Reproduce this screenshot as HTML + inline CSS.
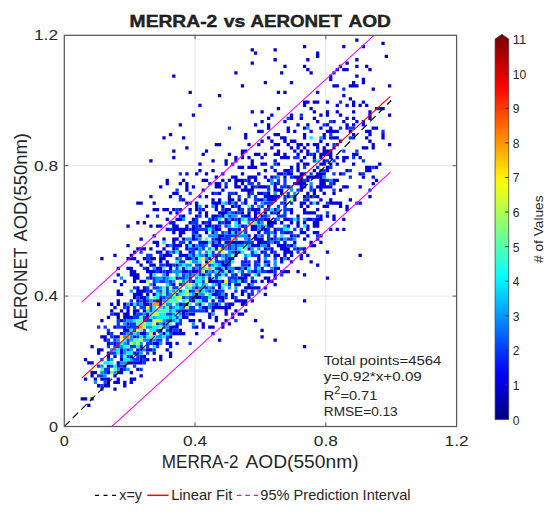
<!DOCTYPE html>
<html><head><meta charset="utf-8"><title>MERRA-2 vs AERONET AOD</title>
<style>html,body{margin:0;padding:0;background:#fff;}svg{display:block}text{font-family:"Liberation Sans",sans-serif;fill:#262626}</style></head><body>
<svg width="550" height="514" viewBox="0 0 550 514">
<defs><linearGradient id="jet" gradientUnits="userSpaceOnUse" x1="0" y1="419.6" x2="0" y2="39.1">
<stop offset="0.0000" stop-color="rgb(0,0,128)"/>
<stop offset="0.0227" stop-color="rgb(0,0,151)"/>
<stop offset="0.0455" stop-color="rgb(0,0,174)"/>
<stop offset="0.0682" stop-color="rgb(0,0,197)"/>
<stop offset="0.0909" stop-color="rgb(0,0,220)"/>
<stop offset="0.1136" stop-color="rgb(0,0,243)"/>
<stop offset="0.1364" stop-color="rgb(0,12,255)"/>
<stop offset="0.1591" stop-color="rgb(0,35,255)"/>
<stop offset="0.1818" stop-color="rgb(0,58,255)"/>
<stop offset="0.2045" stop-color="rgb(0,81,255)"/>
<stop offset="0.2273" stop-color="rgb(0,104,255)"/>
<stop offset="0.2500" stop-color="rgb(0,128,255)"/>
<stop offset="0.2727" stop-color="rgb(0,151,255)"/>
<stop offset="0.2955" stop-color="rgb(0,174,255)"/>
<stop offset="0.3182" stop-color="rgb(0,197,255)"/>
<stop offset="0.3409" stop-color="rgb(0,220,255)"/>
<stop offset="0.3636" stop-color="rgb(0,243,255)"/>
<stop offset="0.3864" stop-color="rgb(12,255,243)"/>
<stop offset="0.4091" stop-color="rgb(35,255,220)"/>
<stop offset="0.4318" stop-color="rgb(58,255,197)"/>
<stop offset="0.4545" stop-color="rgb(81,255,174)"/>
<stop offset="0.4773" stop-color="rgb(104,255,151)"/>
<stop offset="0.5000" stop-color="rgb(128,255,128)"/>
<stop offset="0.5227" stop-color="rgb(151,255,104)"/>
<stop offset="0.5455" stop-color="rgb(174,255,81)"/>
<stop offset="0.5682" stop-color="rgb(197,255,58)"/>
<stop offset="0.5909" stop-color="rgb(220,255,35)"/>
<stop offset="0.6136" stop-color="rgb(243,255,12)"/>
<stop offset="0.6364" stop-color="rgb(255,243,0)"/>
<stop offset="0.6591" stop-color="rgb(255,220,0)"/>
<stop offset="0.6818" stop-color="rgb(255,197,0)"/>
<stop offset="0.7045" stop-color="rgb(255,174,0)"/>
<stop offset="0.7273" stop-color="rgb(255,151,0)"/>
<stop offset="0.7500" stop-color="rgb(255,128,0)"/>
<stop offset="0.7727" stop-color="rgb(255,104,0)"/>
<stop offset="0.7955" stop-color="rgb(255,81,0)"/>
<stop offset="0.8182" stop-color="rgb(255,58,0)"/>
<stop offset="0.8409" stop-color="rgb(255,35,0)"/>
<stop offset="0.8636" stop-color="rgb(255,12,0)"/>
<stop offset="0.8864" stop-color="rgb(243,0,0)"/>
<stop offset="0.9091" stop-color="rgb(220,0,0)"/>
<stop offset="0.9318" stop-color="rgb(197,0,0)"/>
<stop offset="0.9545" stop-color="rgb(174,0,0)"/>
<stop offset="0.9773" stop-color="rgb(151,0,0)"/>
<stop offset="1.0000" stop-color="rgb(128,0,0)"/>
</linearGradient>
<filter id="soft" x="0" y="0" width="550" height="514" filterUnits="userSpaceOnUse"><feGaussianBlur stdDeviation="0.45"/></filter>
<clipPath id="clip"><rect x="64.3" y="35.3" width="392.3" height="391.2"/></clipPath></defs>
<rect width="550" height="514" fill="#fff"/>
<line x1="195.07" y1="35.3" x2="195.07" y2="426.5" stroke="#e6e6e6" stroke-width="1"/>
<line x1="64.3" y1="296.10" x2="456.6" y2="296.10" stroke="#e6e6e6" stroke-width="1"/>
<line x1="325.83" y1="35.3" x2="325.83" y2="426.5" stroke="#e6e6e6" stroke-width="1"/>
<line x1="64.3" y1="165.70" x2="456.6" y2="165.70" stroke="#e6e6e6" stroke-width="1"/>
<g filter="url(#soft)">
<path fill="rgb(0,0,220)" d="M80.65 397.16h3.27v3.26h-3.27zM83.91 397.16h3.27v3.26h-3.27zM83.91 377.60h3.27v3.26h-3.27zM83.91 358.04h3.27v3.26h-3.27zM87.18 403.68h3.27v3.26h-3.27zM87.18 361.30h3.27v3.26h-3.27zM90.45 397.16h3.27v3.26h-3.27zM90.45 374.34h3.27v3.26h-3.27zM90.45 371.08h3.27v3.26h-3.27zM90.45 361.30h3.27v3.26h-3.27zM90.45 345.00h3.27v3.26h-3.27zM93.72 377.60h3.27v3.26h-3.27zM93.72 371.08h3.27v3.26h-3.27zM96.99 384.12h3.27v3.26h-3.27zM96.99 351.52h3.27v3.26h-3.27zM96.99 348.26h3.27v3.26h-3.27zM96.99 302.62h3.27v3.26h-3.27zM100.26 377.60h3.27v3.26h-3.27zM100.26 348.26h3.27v3.26h-3.27zM100.26 335.22h3.27v3.26h-3.27zM100.26 318.92h3.27v3.26h-3.27zM100.26 256.98h3.27v3.26h-3.27zM103.53 384.12h3.27v3.26h-3.27zM103.53 377.60h3.27v3.26h-3.27zM103.53 338.48h3.27v3.26h-3.27zM103.53 335.22h3.27v3.26h-3.27zM106.80 384.12h3.27v3.26h-3.27zM106.80 380.86h3.27v3.26h-3.27zM106.80 377.60h3.27v3.26h-3.27zM106.80 371.08h3.27v3.26h-3.27zM106.80 364.56h3.27v3.26h-3.27zM106.80 354.78h3.27v3.26h-3.27zM106.80 351.52h3.27v3.26h-3.27zM106.80 341.74h3.27v3.26h-3.27zM106.80 331.96h3.27v3.26h-3.27zM106.80 315.66h3.27v3.26h-3.27zM110.07 309.14h3.27v3.26h-3.27zM110.07 302.62h3.27v3.26h-3.27zM113.34 387.38h3.27v3.26h-3.27zM113.34 380.86h3.27v3.26h-3.27zM113.34 374.34h3.27v3.26h-3.27zM113.34 354.78h3.27v3.26h-3.27zM113.34 341.74h3.27v3.26h-3.27zM113.34 335.22h3.27v3.26h-3.27zM113.34 325.44h3.27v3.26h-3.27zM113.34 312.40h3.27v3.26h-3.27zM113.34 305.88h3.27v3.26h-3.27zM113.34 279.80h3.27v3.26h-3.27zM113.34 253.72h3.27v3.26h-3.27zM116.61 380.86h3.27v3.26h-3.27zM116.61 377.60h3.27v3.26h-3.27zM116.61 371.08h3.27v3.26h-3.27zM116.61 364.56h3.27v3.26h-3.27zM116.61 361.30h3.27v3.26h-3.27zM116.61 335.22h3.27v3.26h-3.27zM116.61 315.66h3.27v3.26h-3.27zM116.61 312.40h3.27v3.26h-3.27zM116.61 302.62h3.27v3.26h-3.27zM116.61 299.36h3.27v3.26h-3.27zM116.61 292.84h3.27v3.26h-3.27zM116.61 289.58h3.27v3.26h-3.27zM116.61 273.28h3.27v3.26h-3.27zM116.61 266.76h3.27v3.26h-3.27zM119.88 371.08h3.27v3.26h-3.27zM119.88 367.82h3.27v3.26h-3.27zM119.88 358.04h3.27v3.26h-3.27zM119.88 351.52h3.27v3.26h-3.27zM119.88 348.26h3.27v3.26h-3.27zM119.88 331.96h3.27v3.26h-3.27zM119.88 318.92h3.27v3.26h-3.27zM119.88 309.14h3.27v3.26h-3.27zM119.88 292.84h3.27v3.26h-3.27zM119.88 283.06h3.27v3.26h-3.27zM123.14 384.12h3.27v3.26h-3.27zM123.14 380.86h3.27v3.26h-3.27zM123.14 364.56h3.27v3.26h-3.27zM123.14 328.70h3.27v3.26h-3.27zM123.14 325.44h3.27v3.26h-3.27zM123.14 315.66h3.27v3.26h-3.27zM123.14 312.40h3.27v3.26h-3.27zM123.14 302.62h3.27v3.26h-3.27zM123.14 279.80h3.27v3.26h-3.27zM126.41 361.30h3.27v3.26h-3.27zM126.41 328.70h3.27v3.26h-3.27zM126.41 322.18h3.27v3.26h-3.27zM126.41 315.66h3.27v3.26h-3.27zM126.41 312.40h3.27v3.26h-3.27zM126.41 309.14h3.27v3.26h-3.27zM126.41 305.88h3.27v3.26h-3.27zM126.41 266.76h3.27v3.26h-3.27zM126.41 256.98h3.27v3.26h-3.27zM126.41 243.94h3.27v3.26h-3.27zM126.41 224.38h3.27v3.26h-3.27zM129.68 380.86h3.27v3.26h-3.27zM129.68 377.60h3.27v3.26h-3.27zM129.68 371.08h3.27v3.26h-3.27zM129.68 361.30h3.27v3.26h-3.27zM129.68 354.78h3.27v3.26h-3.27zM129.68 315.66h3.27v3.26h-3.27zM129.68 302.62h3.27v3.26h-3.27zM129.68 273.28h3.27v3.26h-3.27zM129.68 270.02h3.27v3.26h-3.27zM129.68 266.76h3.27v3.26h-3.27zM129.68 256.98h3.27v3.26h-3.27zM129.68 253.72h3.27v3.26h-3.27zM132.95 377.60h3.27v3.26h-3.27zM132.95 361.30h3.27v3.26h-3.27zM132.95 351.52h3.27v3.26h-3.27zM132.95 335.22h3.27v3.26h-3.27zM132.95 312.40h3.27v3.26h-3.27zM132.95 309.14h3.27v3.26h-3.27zM132.95 296.10h3.27v3.26h-3.27zM132.95 292.84h3.27v3.26h-3.27zM132.95 279.80h3.27v3.26h-3.27zM132.95 276.54h3.27v3.26h-3.27zM132.95 273.28h3.27v3.26h-3.27zM132.95 270.02h3.27v3.26h-3.27zM132.95 256.98h3.27v3.26h-3.27zM132.95 250.46h3.27v3.26h-3.27zM136.22 367.82h3.27v3.26h-3.27zM136.22 361.30h3.27v3.26h-3.27zM136.22 348.26h3.27v3.26h-3.27zM136.22 325.44h3.27v3.26h-3.27zM136.22 309.14h3.27v3.26h-3.27zM136.22 299.36h3.27v3.26h-3.27zM136.22 292.84h3.27v3.26h-3.27zM136.22 289.58h3.27v3.26h-3.27zM136.22 286.32h3.27v3.26h-3.27zM136.22 276.54h3.27v3.26h-3.27zM136.22 273.28h3.27v3.26h-3.27zM136.22 260.24h3.27v3.26h-3.27zM136.22 247.20h3.27v3.26h-3.27zM136.22 221.12h3.27v3.26h-3.27zM136.22 201.56h3.27v3.26h-3.27zM139.49 374.34h3.27v3.26h-3.27zM139.49 361.30h3.27v3.26h-3.27zM139.49 358.04h3.27v3.26h-3.27zM139.49 354.78h3.27v3.26h-3.27zM139.49 345.00h3.27v3.26h-3.27zM139.49 331.96h3.27v3.26h-3.27zM139.49 296.10h3.27v3.26h-3.27zM139.49 292.84h3.27v3.26h-3.27zM139.49 289.58h3.27v3.26h-3.27zM139.49 279.80h3.27v3.26h-3.27zM139.49 263.50h3.27v3.26h-3.27zM139.49 247.20h3.27v3.26h-3.27zM139.49 237.42h3.27v3.26h-3.27zM139.49 201.56h3.27v3.26h-3.27zM142.76 354.78h3.27v3.26h-3.27zM142.76 331.96h3.27v3.26h-3.27zM142.76 309.14h3.27v3.26h-3.27zM142.76 302.62h3.27v3.26h-3.27zM142.76 299.36h3.27v3.26h-3.27zM142.76 296.10h3.27v3.26h-3.27zM142.76 289.58h3.27v3.26h-3.27zM142.76 286.32h3.27v3.26h-3.27zM142.76 279.80h3.27v3.26h-3.27zM142.76 256.98h3.27v3.26h-3.27zM142.76 247.20h3.27v3.26h-3.27zM142.76 221.12h3.27v3.26h-3.27zM146.03 358.04h3.27v3.26h-3.27zM146.03 348.26h3.27v3.26h-3.27zM146.03 315.66h3.27v3.26h-3.27zM146.03 312.40h3.27v3.26h-3.27zM146.03 302.62h3.27v3.26h-3.27zM146.03 292.84h3.27v3.26h-3.27zM146.03 270.02h3.27v3.26h-3.27zM146.03 266.76h3.27v3.26h-3.27zM146.03 260.24h3.27v3.26h-3.27zM146.03 214.60h3.27v3.26h-3.27zM149.30 348.26h3.27v3.26h-3.27zM149.30 289.58h3.27v3.26h-3.27zM149.30 276.54h3.27v3.26h-3.27zM149.30 273.28h3.27v3.26h-3.27zM149.30 270.02h3.27v3.26h-3.27zM149.30 263.50h3.27v3.26h-3.27zM149.30 256.98h3.27v3.26h-3.27zM149.30 247.20h3.27v3.26h-3.27zM149.30 224.38h3.27v3.26h-3.27zM149.30 195.04h3.27v3.26h-3.27zM149.30 159.18h3.27v3.26h-3.27zM152.57 358.04h3.27v3.26h-3.27zM152.57 351.52h3.27v3.26h-3.27zM152.57 341.74h3.27v3.26h-3.27zM152.57 331.96h3.27v3.26h-3.27zM152.57 292.84h3.27v3.26h-3.27zM152.57 283.06h3.27v3.26h-3.27zM152.57 270.02h3.27v3.26h-3.27zM152.57 263.50h3.27v3.26h-3.27zM152.57 256.98h3.27v3.26h-3.27zM152.57 240.68h3.27v3.26h-3.27zM152.57 234.16h3.27v3.26h-3.27zM152.57 208.08h3.27v3.26h-3.27zM152.57 201.56h3.27v3.26h-3.27zM155.84 341.74h3.27v3.26h-3.27zM155.84 266.76h3.27v3.26h-3.27zM155.84 250.46h3.27v3.26h-3.27zM155.84 243.94h3.27v3.26h-3.27zM155.84 240.68h3.27v3.26h-3.27zM155.84 224.38h3.27v3.26h-3.27zM155.84 208.08h3.27v3.26h-3.27zM159.11 358.04h3.27v3.26h-3.27zM159.11 354.78h3.27v3.26h-3.27zM159.11 328.70h3.27v3.26h-3.27zM159.11 302.62h3.27v3.26h-3.27zM159.11 299.36h3.27v3.26h-3.27zM159.11 296.10h3.27v3.26h-3.27zM159.11 270.02h3.27v3.26h-3.27zM159.11 266.76h3.27v3.26h-3.27zM159.11 260.24h3.27v3.26h-3.27zM159.11 256.98h3.27v3.26h-3.27zM159.11 250.46h3.27v3.26h-3.27zM159.11 224.38h3.27v3.26h-3.27zM159.11 185.26h3.27v3.26h-3.27zM162.38 331.96h3.27v3.26h-3.27zM162.38 322.18h3.27v3.26h-3.27zM162.38 256.98h3.27v3.26h-3.27zM162.38 253.72h3.27v3.26h-3.27zM162.38 247.20h3.27v3.26h-3.27zM162.38 237.42h3.27v3.26h-3.27zM162.38 208.08h3.27v3.26h-3.27zM162.38 136.36h3.27v3.26h-3.27zM165.64 348.26h3.27v3.26h-3.27zM165.64 341.74h3.27v3.26h-3.27zM165.64 273.28h3.27v3.26h-3.27zM165.64 270.02h3.27v3.26h-3.27zM165.64 263.50h3.27v3.26h-3.27zM165.64 260.24h3.27v3.26h-3.27zM165.64 253.72h3.27v3.26h-3.27zM165.64 250.46h3.27v3.26h-3.27zM165.64 243.94h3.27v3.26h-3.27zM165.64 227.64h3.27v3.26h-3.27zM165.64 217.86h3.27v3.26h-3.27zM165.64 208.08h3.27v3.26h-3.27zM165.64 182.00h3.27v3.26h-3.27zM165.64 178.74h3.27v3.26h-3.27zM168.91 354.78h3.27v3.26h-3.27zM168.91 351.52h3.27v3.26h-3.27zM168.91 345.00h3.27v3.26h-3.27zM168.91 341.74h3.27v3.26h-3.27zM168.91 335.22h3.27v3.26h-3.27zM168.91 328.70h3.27v3.26h-3.27zM168.91 325.44h3.27v3.26h-3.27zM168.91 266.76h3.27v3.26h-3.27zM168.91 263.50h3.27v3.26h-3.27zM168.91 253.72h3.27v3.26h-3.27zM168.91 221.12h3.27v3.26h-3.27zM168.91 211.34h3.27v3.26h-3.27zM168.91 195.04h3.27v3.26h-3.27zM168.91 133.10h3.27v3.26h-3.27zM172.18 331.96h3.27v3.26h-3.27zM172.18 325.44h3.27v3.26h-3.27zM172.18 283.06h3.27v3.26h-3.27zM172.18 247.20h3.27v3.26h-3.27zM172.18 243.94h3.27v3.26h-3.27zM172.18 240.68h3.27v3.26h-3.27zM172.18 237.42h3.27v3.26h-3.27zM172.18 230.90h3.27v3.26h-3.27zM172.18 227.64h3.27v3.26h-3.27zM172.18 224.38h3.27v3.26h-3.27zM172.18 221.12h3.27v3.26h-3.27zM172.18 208.08h3.27v3.26h-3.27zM172.18 191.78h3.27v3.26h-3.27zM172.18 155.92h3.27v3.26h-3.27zM172.18 149.40h3.27v3.26h-3.27zM172.18 74.42h3.27v3.26h-3.27zM175.45 341.74h3.27v3.26h-3.27zM175.45 331.96h3.27v3.26h-3.27zM175.45 325.44h3.27v3.26h-3.27zM175.45 322.18h3.27v3.26h-3.27zM175.45 276.54h3.27v3.26h-3.27zM175.45 263.50h3.27v3.26h-3.27zM175.45 243.94h3.27v3.26h-3.27zM175.45 237.42h3.27v3.26h-3.27zM175.45 227.64h3.27v3.26h-3.27zM175.45 224.38h3.27v3.26h-3.27zM175.45 217.86h3.27v3.26h-3.27zM175.45 211.34h3.27v3.26h-3.27zM175.45 191.78h3.27v3.26h-3.27zM178.72 331.96h3.27v3.26h-3.27zM178.72 328.70h3.27v3.26h-3.27zM178.72 302.62h3.27v3.26h-3.27zM178.72 260.24h3.27v3.26h-3.27zM178.72 253.72h3.27v3.26h-3.27zM178.72 250.46h3.27v3.26h-3.27zM178.72 243.94h3.27v3.26h-3.27zM178.72 234.16h3.27v3.26h-3.27zM178.72 230.90h3.27v3.26h-3.27zM178.72 227.64h3.27v3.26h-3.27zM178.72 217.86h3.27v3.26h-3.27zM178.72 208.08h3.27v3.26h-3.27zM178.72 182.00h3.27v3.26h-3.27zM178.72 123.32h3.27v3.26h-3.27zM181.99 331.96h3.27v3.26h-3.27zM181.99 315.66h3.27v3.26h-3.27zM181.99 312.40h3.27v3.26h-3.27zM181.99 309.14h3.27v3.26h-3.27zM181.99 270.02h3.27v3.26h-3.27zM181.99 266.76h3.27v3.26h-3.27zM181.99 253.72h3.27v3.26h-3.27zM181.99 237.42h3.27v3.26h-3.27zM181.99 230.90h3.27v3.26h-3.27zM181.99 227.64h3.27v3.26h-3.27zM181.99 214.60h3.27v3.26h-3.27zM181.99 198.30h3.27v3.26h-3.27zM181.99 178.74h3.27v3.26h-3.27zM181.99 136.36h3.27v3.26h-3.27zM185.26 315.66h3.27v3.26h-3.27zM185.26 309.14h3.27v3.26h-3.27zM185.26 302.62h3.27v3.26h-3.27zM185.26 270.02h3.27v3.26h-3.27zM185.26 256.98h3.27v3.26h-3.27zM185.26 253.72h3.27v3.26h-3.27zM185.26 247.20h3.27v3.26h-3.27zM185.26 243.94h3.27v3.26h-3.27zM185.26 227.64h3.27v3.26h-3.27zM185.26 224.38h3.27v3.26h-3.27zM185.26 201.56h3.27v3.26h-3.27zM185.26 188.52h3.27v3.26h-3.27zM185.26 185.26h3.27v3.26h-3.27zM185.26 182.00h3.27v3.26h-3.27zM185.26 172.22h3.27v3.26h-3.27zM185.26 146.14h3.27v3.26h-3.27zM188.53 318.92h3.27v3.26h-3.27zM188.53 312.40h3.27v3.26h-3.27zM188.53 289.58h3.27v3.26h-3.27zM188.53 276.54h3.27v3.26h-3.27zM188.53 256.98h3.27v3.26h-3.27zM188.53 250.46h3.27v3.26h-3.27zM188.53 240.68h3.27v3.26h-3.27zM188.53 221.12h3.27v3.26h-3.27zM188.53 208.08h3.27v3.26h-3.27zM188.53 90.72h3.27v3.26h-3.27zM191.80 318.92h3.27v3.26h-3.27zM191.80 312.40h3.27v3.26h-3.27zM191.80 299.36h3.27v3.26h-3.27zM191.80 279.80h3.27v3.26h-3.27zM191.80 270.02h3.27v3.26h-3.27zM191.80 243.94h3.27v3.26h-3.27zM191.80 237.42h3.27v3.26h-3.27zM191.80 234.16h3.27v3.26h-3.27zM191.80 227.64h3.27v3.26h-3.27zM191.80 224.38h3.27v3.26h-3.27zM191.80 217.86h3.27v3.26h-3.27zM191.80 185.26h3.27v3.26h-3.27zM191.80 113.54h3.27v3.26h-3.27zM195.07 331.96h3.27v3.26h-3.27zM195.07 325.44h3.27v3.26h-3.27zM195.07 296.10h3.27v3.26h-3.27zM195.07 292.84h3.27v3.26h-3.27zM195.07 286.32h3.27v3.26h-3.27zM195.07 270.02h3.27v3.26h-3.27zM195.07 256.98h3.27v3.26h-3.27zM195.07 247.20h3.27v3.26h-3.27zM195.07 230.90h3.27v3.26h-3.27zM195.07 214.60h3.27v3.26h-3.27zM195.07 208.08h3.27v3.26h-3.27zM195.07 204.82h3.27v3.26h-3.27zM195.07 201.56h3.27v3.26h-3.27zM195.07 172.22h3.27v3.26h-3.27zM198.34 318.92h3.27v3.26h-3.27zM198.34 302.62h3.27v3.26h-3.27zM198.34 296.10h3.27v3.26h-3.27zM198.34 263.50h3.27v3.26h-3.27zM198.34 240.68h3.27v3.26h-3.27zM198.34 234.16h3.27v3.26h-3.27zM198.34 224.38h3.27v3.26h-3.27zM198.34 211.34h3.27v3.26h-3.27zM198.34 168.96h3.27v3.26h-3.27zM198.34 162.44h3.27v3.26h-3.27zM198.34 103.76h3.27v3.26h-3.27zM201.61 325.44h3.27v3.26h-3.27zM201.61 322.18h3.27v3.26h-3.27zM201.61 305.88h3.27v3.26h-3.27zM201.61 273.28h3.27v3.26h-3.27zM201.61 240.68h3.27v3.26h-3.27zM201.61 221.12h3.27v3.26h-3.27zM201.61 208.08h3.27v3.26h-3.27zM201.61 188.52h3.27v3.26h-3.27zM201.61 178.74h3.27v3.26h-3.27zM201.61 152.66h3.27v3.26h-3.27zM204.87 309.14h3.27v3.26h-3.27zM204.87 305.88h3.27v3.26h-3.27zM204.87 260.24h3.27v3.26h-3.27zM204.87 253.72h3.27v3.26h-3.27zM204.87 240.68h3.27v3.26h-3.27zM204.87 230.90h3.27v3.26h-3.27zM204.87 224.38h3.27v3.26h-3.27zM204.87 214.60h3.27v3.26h-3.27zM204.87 211.34h3.27v3.26h-3.27zM204.87 204.82h3.27v3.26h-3.27zM204.87 195.04h3.27v3.26h-3.27zM204.87 178.74h3.27v3.26h-3.27zM204.87 172.22h3.27v3.26h-3.27zM204.87 149.40h3.27v3.26h-3.27zM208.14 325.44h3.27v3.26h-3.27zM208.14 315.66h3.27v3.26h-3.27zM208.14 312.40h3.27v3.26h-3.27zM208.14 279.80h3.27v3.26h-3.27zM208.14 276.54h3.27v3.26h-3.27zM208.14 256.98h3.27v3.26h-3.27zM208.14 224.38h3.27v3.26h-3.27zM208.14 221.12h3.27v3.26h-3.27zM211.41 331.96h3.27v3.26h-3.27zM211.41 325.44h3.27v3.26h-3.27zM211.41 309.14h3.27v3.26h-3.27zM211.41 305.88h3.27v3.26h-3.27zM211.41 299.36h3.27v3.26h-3.27zM211.41 292.84h3.27v3.26h-3.27zM211.41 286.32h3.27v3.26h-3.27zM211.41 279.80h3.27v3.26h-3.27zM211.41 243.94h3.27v3.26h-3.27zM211.41 240.68h3.27v3.26h-3.27zM211.41 230.90h3.27v3.26h-3.27zM211.41 217.86h3.27v3.26h-3.27zM211.41 214.60h3.27v3.26h-3.27zM211.41 201.56h3.27v3.26h-3.27zM211.41 198.30h3.27v3.26h-3.27zM211.41 191.78h3.27v3.26h-3.27zM211.41 168.96h3.27v3.26h-3.27zM211.41 159.18h3.27v3.26h-3.27zM214.68 318.92h3.27v3.26h-3.27zM214.68 315.66h3.27v3.26h-3.27zM214.68 305.88h3.27v3.26h-3.27zM214.68 302.62h3.27v3.26h-3.27zM214.68 292.84h3.27v3.26h-3.27zM214.68 289.58h3.27v3.26h-3.27zM214.68 279.80h3.27v3.26h-3.27zM214.68 253.72h3.27v3.26h-3.27zM214.68 247.20h3.27v3.26h-3.27zM214.68 243.94h3.27v3.26h-3.27zM214.68 237.42h3.27v3.26h-3.27zM214.68 227.64h3.27v3.26h-3.27zM214.68 224.38h3.27v3.26h-3.27zM214.68 214.60h3.27v3.26h-3.27zM214.68 208.08h3.27v3.26h-3.27zM214.68 204.82h3.27v3.26h-3.27zM214.68 201.56h3.27v3.26h-3.27zM214.68 185.26h3.27v3.26h-3.27zM214.68 182.00h3.27v3.26h-3.27zM214.68 175.48h3.27v3.26h-3.27zM214.68 142.88h3.27v3.26h-3.27zM217.95 338.48h3.27v3.26h-3.27zM217.95 305.88h3.27v3.26h-3.27zM217.95 296.10h3.27v3.26h-3.27zM217.95 286.32h3.27v3.26h-3.27zM217.95 283.06h3.27v3.26h-3.27zM217.95 266.76h3.27v3.26h-3.27zM217.95 240.68h3.27v3.26h-3.27zM217.95 237.42h3.27v3.26h-3.27zM217.95 234.16h3.27v3.26h-3.27zM217.95 227.64h3.27v3.26h-3.27zM217.95 221.12h3.27v3.26h-3.27zM217.95 211.34h3.27v3.26h-3.27zM217.95 201.56h3.27v3.26h-3.27zM217.95 198.30h3.27v3.26h-3.27zM217.95 191.78h3.27v3.26h-3.27zM217.95 185.26h3.27v3.26h-3.27zM217.95 182.00h3.27v3.26h-3.27zM217.95 142.88h3.27v3.26h-3.27zM217.95 93.98h3.27v3.26h-3.27zM221.22 325.44h3.27v3.26h-3.27zM221.22 322.18h3.27v3.26h-3.27zM221.22 305.88h3.27v3.26h-3.27zM221.22 299.36h3.27v3.26h-3.27zM221.22 296.10h3.27v3.26h-3.27zM221.22 279.80h3.27v3.26h-3.27zM221.22 263.50h3.27v3.26h-3.27zM221.22 260.24h3.27v3.26h-3.27zM221.22 234.16h3.27v3.26h-3.27zM221.22 214.60h3.27v3.26h-3.27zM221.22 211.34h3.27v3.26h-3.27zM221.22 204.82h3.27v3.26h-3.27zM221.22 188.52h3.27v3.26h-3.27zM221.22 178.74h3.27v3.26h-3.27zM221.22 172.22h3.27v3.26h-3.27zM224.49 318.92h3.27v3.26h-3.27zM224.49 312.40h3.27v3.26h-3.27zM224.49 309.14h3.27v3.26h-3.27zM224.49 305.88h3.27v3.26h-3.27zM224.49 292.84h3.27v3.26h-3.27zM224.49 266.76h3.27v3.26h-3.27zM224.49 263.50h3.27v3.26h-3.27zM224.49 240.68h3.27v3.26h-3.27zM224.49 221.12h3.27v3.26h-3.27zM224.49 217.86h3.27v3.26h-3.27zM224.49 211.34h3.27v3.26h-3.27zM224.49 208.08h3.27v3.26h-3.27zM224.49 185.26h3.27v3.26h-3.27zM224.49 162.44h3.27v3.26h-3.27zM224.49 159.18h3.27v3.26h-3.27zM227.76 322.18h3.27v3.26h-3.27zM227.76 305.88h3.27v3.26h-3.27zM227.76 302.62h3.27v3.26h-3.27zM227.76 283.06h3.27v3.26h-3.27zM227.76 270.02h3.27v3.26h-3.27zM227.76 256.98h3.27v3.26h-3.27zM227.76 240.68h3.27v3.26h-3.27zM227.76 230.90h3.27v3.26h-3.27zM227.76 227.64h3.27v3.26h-3.27zM227.76 221.12h3.27v3.26h-3.27zM227.76 208.08h3.27v3.26h-3.27zM227.76 201.56h3.27v3.26h-3.27zM227.76 198.30h3.27v3.26h-3.27zM227.76 195.04h3.27v3.26h-3.27zM227.76 178.74h3.27v3.26h-3.27zM227.76 152.66h3.27v3.26h-3.27zM231.03 315.66h3.27v3.26h-3.27zM231.03 302.62h3.27v3.26h-3.27zM231.03 296.10h3.27v3.26h-3.27zM231.03 292.84h3.27v3.26h-3.27zM231.03 256.98h3.27v3.26h-3.27zM231.03 240.68h3.27v3.26h-3.27zM231.03 217.86h3.27v3.26h-3.27zM231.03 204.82h3.27v3.26h-3.27zM231.03 198.30h3.27v3.26h-3.27zM231.03 175.48h3.27v3.26h-3.27zM234.30 309.14h3.27v3.26h-3.27zM234.30 299.36h3.27v3.26h-3.27zM234.30 283.06h3.27v3.26h-3.27zM234.30 273.28h3.27v3.26h-3.27zM234.30 266.76h3.27v3.26h-3.27zM234.30 253.72h3.27v3.26h-3.27zM234.30 250.46h3.27v3.26h-3.27zM234.30 240.68h3.27v3.26h-3.27zM234.30 230.90h3.27v3.26h-3.27zM234.30 211.34h3.27v3.26h-3.27zM234.30 201.56h3.27v3.26h-3.27zM234.30 191.78h3.27v3.26h-3.27zM234.30 185.26h3.27v3.26h-3.27zM234.30 182.00h3.27v3.26h-3.27zM234.30 178.74h3.27v3.26h-3.27zM234.30 175.48h3.27v3.26h-3.27zM234.30 159.18h3.27v3.26h-3.27zM234.30 155.92h3.27v3.26h-3.27zM234.30 71.16h3.27v3.26h-3.27zM237.57 312.40h3.27v3.26h-3.27zM237.57 299.36h3.27v3.26h-3.27zM237.57 283.06h3.27v3.26h-3.27zM237.57 276.54h3.27v3.26h-3.27zM237.57 266.76h3.27v3.26h-3.27zM237.57 240.68h3.27v3.26h-3.27zM237.57 227.64h3.27v3.26h-3.27zM237.57 221.12h3.27v3.26h-3.27zM237.57 217.86h3.27v3.26h-3.27zM237.57 208.08h3.27v3.26h-3.27zM237.57 204.82h3.27v3.26h-3.27zM237.57 198.30h3.27v3.26h-3.27zM237.57 185.26h3.27v3.26h-3.27zM237.57 178.74h3.27v3.26h-3.27zM237.57 165.70h3.27v3.26h-3.27zM240.83 312.40h3.27v3.26h-3.27zM240.83 302.62h3.27v3.26h-3.27zM240.83 299.36h3.27v3.26h-3.27zM240.83 292.84h3.27v3.26h-3.27zM240.83 289.58h3.27v3.26h-3.27zM240.83 279.80h3.27v3.26h-3.27zM240.83 276.54h3.27v3.26h-3.27zM240.83 240.68h3.27v3.26h-3.27zM240.83 224.38h3.27v3.26h-3.27zM240.83 211.34h3.27v3.26h-3.27zM240.83 188.52h3.27v3.26h-3.27zM240.83 182.00h3.27v3.26h-3.27zM240.83 178.74h3.27v3.26h-3.27zM240.83 172.22h3.27v3.26h-3.27zM240.83 165.70h3.27v3.26h-3.27zM240.83 155.92h3.27v3.26h-3.27zM240.83 152.66h3.27v3.26h-3.27zM240.83 149.40h3.27v3.26h-3.27zM240.83 84.20h3.27v3.26h-3.27zM244.10 309.14h3.27v3.26h-3.27zM244.10 302.62h3.27v3.26h-3.27zM244.10 299.36h3.27v3.26h-3.27zM244.10 286.32h3.27v3.26h-3.27zM244.10 276.54h3.27v3.26h-3.27zM244.10 273.28h3.27v3.26h-3.27zM244.10 266.76h3.27v3.26h-3.27zM244.10 260.24h3.27v3.26h-3.27zM244.10 214.60h3.27v3.26h-3.27zM244.10 201.56h3.27v3.26h-3.27zM244.10 198.30h3.27v3.26h-3.27zM244.10 188.52h3.27v3.26h-3.27zM244.10 185.26h3.27v3.26h-3.27zM244.10 149.40h3.27v3.26h-3.27zM244.10 136.36h3.27v3.26h-3.27zM244.10 133.10h3.27v3.26h-3.27zM247.37 296.10h3.27v3.26h-3.27zM247.37 292.84h3.27v3.26h-3.27zM247.37 286.32h3.27v3.26h-3.27zM247.37 283.06h3.27v3.26h-3.27zM247.37 273.28h3.27v3.26h-3.27zM247.37 263.50h3.27v3.26h-3.27zM247.37 247.20h3.27v3.26h-3.27zM247.37 234.16h3.27v3.26h-3.27zM247.37 214.60h3.27v3.26h-3.27zM247.37 211.34h3.27v3.26h-3.27zM247.37 191.78h3.27v3.26h-3.27zM247.37 188.52h3.27v3.26h-3.27zM247.37 178.74h3.27v3.26h-3.27zM247.37 175.48h3.27v3.26h-3.27zM247.37 165.70h3.27v3.26h-3.27zM247.37 155.92h3.27v3.26h-3.27zM247.37 142.88h3.27v3.26h-3.27zM250.64 299.36h3.27v3.26h-3.27zM250.64 286.32h3.27v3.26h-3.27zM250.64 279.80h3.27v3.26h-3.27zM250.64 243.94h3.27v3.26h-3.27zM250.64 227.64h3.27v3.26h-3.27zM250.64 224.38h3.27v3.26h-3.27zM250.64 208.08h3.27v3.26h-3.27zM250.64 188.52h3.27v3.26h-3.27zM250.64 185.26h3.27v3.26h-3.27zM250.64 175.48h3.27v3.26h-3.27zM250.64 165.70h3.27v3.26h-3.27zM250.64 162.44h3.27v3.26h-3.27zM250.64 159.18h3.27v3.26h-3.27zM250.64 110.28h3.27v3.26h-3.27zM250.64 61.38h3.27v3.26h-3.27zM250.64 48.34h3.27v3.26h-3.27zM253.91 318.92h3.27v3.26h-3.27zM253.91 286.32h3.27v3.26h-3.27zM253.91 270.02h3.27v3.26h-3.27zM253.91 243.94h3.27v3.26h-3.27zM253.91 237.42h3.27v3.26h-3.27zM253.91 234.16h3.27v3.26h-3.27zM253.91 227.64h3.27v3.26h-3.27zM253.91 224.38h3.27v3.26h-3.27zM253.91 217.86h3.27v3.26h-3.27zM253.91 214.60h3.27v3.26h-3.27zM253.91 211.34h3.27v3.26h-3.27zM253.91 208.08h3.27v3.26h-3.27zM253.91 201.56h3.27v3.26h-3.27zM253.91 178.74h3.27v3.26h-3.27zM253.91 175.48h3.27v3.26h-3.27zM253.91 165.70h3.27v3.26h-3.27zM253.91 152.66h3.27v3.26h-3.27zM253.91 123.32h3.27v3.26h-3.27zM253.91 51.60h3.27v3.26h-3.27zM257.18 286.32h3.27v3.26h-3.27zM257.18 273.28h3.27v3.26h-3.27zM257.18 260.24h3.27v3.26h-3.27zM257.18 256.98h3.27v3.26h-3.27zM257.18 253.72h3.27v3.26h-3.27zM257.18 243.94h3.27v3.26h-3.27zM257.18 240.68h3.27v3.26h-3.27zM257.18 237.42h3.27v3.26h-3.27zM257.18 230.90h3.27v3.26h-3.27zM257.18 208.08h3.27v3.26h-3.27zM257.18 198.30h3.27v3.26h-3.27zM257.18 191.78h3.27v3.26h-3.27zM257.18 185.26h3.27v3.26h-3.27zM257.18 172.22h3.27v3.26h-3.27zM257.18 152.66h3.27v3.26h-3.27zM257.18 142.88h3.27v3.26h-3.27zM257.18 129.84h3.27v3.26h-3.27zM260.45 335.22h3.27v3.26h-3.27zM260.45 328.70h3.27v3.26h-3.27zM260.45 279.80h3.27v3.26h-3.27zM260.45 266.76h3.27v3.26h-3.27zM260.45 250.46h3.27v3.26h-3.27zM260.45 240.68h3.27v3.26h-3.27zM260.45 237.42h3.27v3.26h-3.27zM260.45 214.60h3.27v3.26h-3.27zM260.45 198.30h3.27v3.26h-3.27zM260.45 191.78h3.27v3.26h-3.27zM260.45 185.26h3.27v3.26h-3.27zM260.45 162.44h3.27v3.26h-3.27zM260.45 155.92h3.27v3.26h-3.27zM260.45 139.62h3.27v3.26h-3.27zM260.45 129.84h3.27v3.26h-3.27zM260.45 120.06h3.27v3.26h-3.27zM260.45 110.28h3.27v3.26h-3.27zM263.72 292.84h3.27v3.26h-3.27zM263.72 286.32h3.27v3.26h-3.27zM263.72 276.54h3.27v3.26h-3.27zM263.72 260.24h3.27v3.26h-3.27zM263.72 247.20h3.27v3.26h-3.27zM263.72 240.68h3.27v3.26h-3.27zM263.72 227.64h3.27v3.26h-3.27zM263.72 217.86h3.27v3.26h-3.27zM263.72 211.34h3.27v3.26h-3.27zM263.72 195.04h3.27v3.26h-3.27zM263.72 185.26h3.27v3.26h-3.27zM263.72 175.48h3.27v3.26h-3.27zM263.72 168.96h3.27v3.26h-3.27zM263.72 162.44h3.27v3.26h-3.27zM263.72 152.66h3.27v3.26h-3.27zM263.72 80.94h3.27v3.26h-3.27zM266.99 279.80h3.27v3.26h-3.27zM266.99 276.54h3.27v3.26h-3.27zM266.99 270.02h3.27v3.26h-3.27zM266.99 263.50h3.27v3.26h-3.27zM266.99 243.94h3.27v3.26h-3.27zM266.99 224.38h3.27v3.26h-3.27zM266.99 221.12h3.27v3.26h-3.27zM266.99 217.86h3.27v3.26h-3.27zM266.99 204.82h3.27v3.26h-3.27zM266.99 198.30h3.27v3.26h-3.27zM266.99 195.04h3.27v3.26h-3.27zM266.99 191.78h3.27v3.26h-3.27zM266.99 178.74h3.27v3.26h-3.27zM266.99 136.36h3.27v3.26h-3.27zM266.99 126.58h3.27v3.26h-3.27zM266.99 123.32h3.27v3.26h-3.27zM266.99 116.80h3.27v3.26h-3.27zM270.26 279.80h3.27v3.26h-3.27zM270.26 270.02h3.27v3.26h-3.27zM270.26 250.46h3.27v3.26h-3.27zM270.26 247.20h3.27v3.26h-3.27zM270.26 237.42h3.27v3.26h-3.27zM270.26 224.38h3.27v3.26h-3.27zM270.26 221.12h3.27v3.26h-3.27zM270.26 211.34h3.27v3.26h-3.27zM270.26 198.30h3.27v3.26h-3.27zM270.26 195.04h3.27v3.26h-3.27zM270.26 175.48h3.27v3.26h-3.27zM270.26 146.14h3.27v3.26h-3.27zM270.26 139.62h3.27v3.26h-3.27zM270.26 113.54h3.27v3.26h-3.27zM273.53 338.48h3.27v3.26h-3.27zM273.53 283.06h3.27v3.26h-3.27zM273.53 276.54h3.27v3.26h-3.27zM273.53 273.28h3.27v3.26h-3.27zM273.53 266.76h3.27v3.26h-3.27zM273.53 253.72h3.27v3.26h-3.27zM273.53 240.68h3.27v3.26h-3.27zM273.53 230.90h3.27v3.26h-3.27zM273.53 227.64h3.27v3.26h-3.27zM273.53 221.12h3.27v3.26h-3.27zM273.53 208.08h3.27v3.26h-3.27zM273.53 198.30h3.27v3.26h-3.27zM273.53 195.04h3.27v3.26h-3.27zM273.53 188.52h3.27v3.26h-3.27zM273.53 185.26h3.27v3.26h-3.27zM273.53 182.00h3.27v3.26h-3.27zM273.53 168.96h3.27v3.26h-3.27zM273.53 159.18h3.27v3.26h-3.27zM273.53 152.66h3.27v3.26h-3.27zM273.53 142.88h3.27v3.26h-3.27zM273.53 133.10h3.27v3.26h-3.27zM273.53 58.12h3.27v3.26h-3.27zM273.53 48.34h3.27v3.26h-3.27zM276.80 266.76h3.27v3.26h-3.27zM276.80 253.72h3.27v3.26h-3.27zM276.80 243.94h3.27v3.26h-3.27zM276.80 211.34h3.27v3.26h-3.27zM276.80 195.04h3.27v3.26h-3.27zM276.80 188.52h3.27v3.26h-3.27zM276.80 172.22h3.27v3.26h-3.27zM276.80 162.44h3.27v3.26h-3.27zM276.80 152.66h3.27v3.26h-3.27zM276.80 149.40h3.27v3.26h-3.27zM276.80 142.88h3.27v3.26h-3.27zM276.80 133.10h3.27v3.26h-3.27zM276.80 107.02h3.27v3.26h-3.27zM276.80 90.72h3.27v3.26h-3.27zM280.06 270.02h3.27v3.26h-3.27zM280.06 260.24h3.27v3.26h-3.27zM280.06 256.98h3.27v3.26h-3.27zM280.06 247.20h3.27v3.26h-3.27zM280.06 243.94h3.27v3.26h-3.27zM280.06 237.42h3.27v3.26h-3.27zM280.06 221.12h3.27v3.26h-3.27zM280.06 191.78h3.27v3.26h-3.27zM280.06 188.52h3.27v3.26h-3.27zM280.06 172.22h3.27v3.26h-3.27zM280.06 155.92h3.27v3.26h-3.27zM280.06 136.36h3.27v3.26h-3.27zM280.06 71.16h3.27v3.26h-3.27zM283.33 270.02h3.27v3.26h-3.27zM283.33 253.72h3.27v3.26h-3.27zM283.33 250.46h3.27v3.26h-3.27zM283.33 247.20h3.27v3.26h-3.27zM283.33 243.94h3.27v3.26h-3.27zM283.33 240.68h3.27v3.26h-3.27zM283.33 230.90h3.27v3.26h-3.27zM283.33 217.86h3.27v3.26h-3.27zM283.33 201.56h3.27v3.26h-3.27zM283.33 175.48h3.27v3.26h-3.27zM283.33 168.96h3.27v3.26h-3.27zM283.33 155.92h3.27v3.26h-3.27zM283.33 152.66h3.27v3.26h-3.27zM283.33 139.62h3.27v3.26h-3.27zM283.33 136.36h3.27v3.26h-3.27zM283.33 120.06h3.27v3.26h-3.27zM283.33 90.72h3.27v3.26h-3.27zM283.33 64.64h3.27v3.26h-3.27zM286.60 270.02h3.27v3.26h-3.27zM286.60 256.98h3.27v3.26h-3.27zM286.60 250.46h3.27v3.26h-3.27zM286.60 247.20h3.27v3.26h-3.27zM286.60 230.90h3.27v3.26h-3.27zM286.60 224.38h3.27v3.26h-3.27zM286.60 217.86h3.27v3.26h-3.27zM286.60 195.04h3.27v3.26h-3.27zM286.60 185.26h3.27v3.26h-3.27zM286.60 172.22h3.27v3.26h-3.27zM286.60 168.96h3.27v3.26h-3.27zM286.60 155.92h3.27v3.26h-3.27zM286.60 142.88h3.27v3.26h-3.27zM286.60 129.84h3.27v3.26h-3.27zM286.60 126.58h3.27v3.26h-3.27zM289.87 260.24h3.27v3.26h-3.27zM289.87 253.72h3.27v3.26h-3.27zM289.87 250.46h3.27v3.26h-3.27zM289.87 243.94h3.27v3.26h-3.27zM289.87 234.16h3.27v3.26h-3.27zM289.87 221.12h3.27v3.26h-3.27zM289.87 211.34h3.27v3.26h-3.27zM289.87 208.08h3.27v3.26h-3.27zM289.87 172.22h3.27v3.26h-3.27zM289.87 165.70h3.27v3.26h-3.27zM289.87 146.14h3.27v3.26h-3.27zM289.87 139.62h3.27v3.26h-3.27zM289.87 116.80h3.27v3.26h-3.27zM289.87 113.54h3.27v3.26h-3.27zM289.87 80.94h3.27v3.26h-3.27zM293.14 240.68h3.27v3.26h-3.27zM293.14 198.30h3.27v3.26h-3.27zM293.14 195.04h3.27v3.26h-3.27zM293.14 182.00h3.27v3.26h-3.27zM293.14 175.48h3.27v3.26h-3.27zM293.14 149.40h3.27v3.26h-3.27zM293.14 139.62h3.27v3.26h-3.27zM293.14 129.84h3.27v3.26h-3.27zM296.41 270.02h3.27v3.26h-3.27zM296.41 247.20h3.27v3.26h-3.27zM296.41 234.16h3.27v3.26h-3.27zM296.41 224.38h3.27v3.26h-3.27zM296.41 221.12h3.27v3.26h-3.27zM296.41 214.60h3.27v3.26h-3.27zM296.41 182.00h3.27v3.26h-3.27zM296.41 178.74h3.27v3.26h-3.27zM296.41 175.48h3.27v3.26h-3.27zM296.41 168.96h3.27v3.26h-3.27zM296.41 165.70h3.27v3.26h-3.27zM296.41 162.44h3.27v3.26h-3.27zM296.41 152.66h3.27v3.26h-3.27zM296.41 146.14h3.27v3.26h-3.27zM296.41 142.88h3.27v3.26h-3.27zM296.41 123.32h3.27v3.26h-3.27zM299.68 256.98h3.27v3.26h-3.27zM299.68 253.72h3.27v3.26h-3.27zM299.68 230.90h3.27v3.26h-3.27zM299.68 204.82h3.27v3.26h-3.27zM299.68 201.56h3.27v3.26h-3.27zM299.68 188.52h3.27v3.26h-3.27zM299.68 185.26h3.27v3.26h-3.27zM299.68 182.00h3.27v3.26h-3.27zM299.68 178.74h3.27v3.26h-3.27zM299.68 175.48h3.27v3.26h-3.27zM299.68 172.22h3.27v3.26h-3.27zM299.68 159.18h3.27v3.26h-3.27zM299.68 149.40h3.27v3.26h-3.27zM299.68 142.88h3.27v3.26h-3.27zM299.68 116.80h3.27v3.26h-3.27zM302.95 345.00h3.27v3.26h-3.27zM302.95 299.36h3.27v3.26h-3.27zM302.95 273.28h3.27v3.26h-3.27zM302.95 250.46h3.27v3.26h-3.27zM302.95 247.20h3.27v3.26h-3.27zM302.95 237.42h3.27v3.26h-3.27zM302.95 230.90h3.27v3.26h-3.27zM302.95 221.12h3.27v3.26h-3.27zM302.95 211.34h3.27v3.26h-3.27zM302.95 208.08h3.27v3.26h-3.27zM302.95 201.56h3.27v3.26h-3.27zM302.95 195.04h3.27v3.26h-3.27zM302.95 182.00h3.27v3.26h-3.27zM302.95 172.22h3.27v3.26h-3.27zM302.95 162.44h3.27v3.26h-3.27zM302.95 155.92h3.27v3.26h-3.27zM302.95 146.14h3.27v3.26h-3.27zM302.95 136.36h3.27v3.26h-3.27zM302.95 133.10h3.27v3.26h-3.27zM302.95 126.58h3.27v3.26h-3.27zM302.95 103.76h3.27v3.26h-3.27zM302.95 100.50h3.27v3.26h-3.27zM302.95 64.64h3.27v3.26h-3.27zM302.95 45.08h3.27v3.26h-3.27zM306.22 253.72h3.27v3.26h-3.27zM306.22 234.16h3.27v3.26h-3.27zM306.22 227.64h3.27v3.26h-3.27zM306.22 224.38h3.27v3.26h-3.27zM306.22 217.86h3.27v3.26h-3.27zM306.22 211.34h3.27v3.26h-3.27zM306.22 204.82h3.27v3.26h-3.27zM306.22 198.30h3.27v3.26h-3.27zM306.22 191.78h3.27v3.26h-3.27zM306.22 178.74h3.27v3.26h-3.27zM306.22 175.48h3.27v3.26h-3.27zM306.22 162.44h3.27v3.26h-3.27zM306.22 152.66h3.27v3.26h-3.27zM306.22 149.40h3.27v3.26h-3.27zM306.22 142.88h3.27v3.26h-3.27zM306.22 123.32h3.27v3.26h-3.27zM306.22 100.50h3.27v3.26h-3.27zM306.22 67.90h3.27v3.26h-3.27zM306.22 58.12h3.27v3.26h-3.27zM309.49 260.24h3.27v3.26h-3.27zM309.49 243.94h3.27v3.26h-3.27zM309.49 240.68h3.27v3.26h-3.27zM309.49 217.86h3.27v3.26h-3.27zM309.49 211.34h3.27v3.26h-3.27zM309.49 201.56h3.27v3.26h-3.27zM309.49 195.04h3.27v3.26h-3.27zM309.49 175.48h3.27v3.26h-3.27zM309.49 129.84h3.27v3.26h-3.27zM309.49 107.02h3.27v3.26h-3.27zM309.49 71.16h3.27v3.26h-3.27zM312.76 243.94h3.27v3.26h-3.27zM312.76 230.90h3.27v3.26h-3.27zM312.76 224.38h3.27v3.26h-3.27zM312.76 221.12h3.27v3.26h-3.27zM312.76 211.34h3.27v3.26h-3.27zM312.76 191.78h3.27v3.26h-3.27zM312.76 188.52h3.27v3.26h-3.27zM312.76 175.48h3.27v3.26h-3.27zM312.76 168.96h3.27v3.26h-3.27zM312.76 155.92h3.27v3.26h-3.27zM312.76 152.66h3.27v3.26h-3.27zM312.76 142.88h3.27v3.26h-3.27zM312.76 116.80h3.27v3.26h-3.27zM312.76 110.28h3.27v3.26h-3.27zM312.76 100.50h3.27v3.26h-3.27zM316.03 263.50h3.27v3.26h-3.27zM316.03 237.42h3.27v3.26h-3.27zM316.03 230.90h3.27v3.26h-3.27zM316.03 224.38h3.27v3.26h-3.27zM316.03 221.12h3.27v3.26h-3.27zM316.03 217.86h3.27v3.26h-3.27zM316.03 208.08h3.27v3.26h-3.27zM316.03 201.56h3.27v3.26h-3.27zM316.03 195.04h3.27v3.26h-3.27zM316.03 185.26h3.27v3.26h-3.27zM316.03 175.48h3.27v3.26h-3.27zM316.03 172.22h3.27v3.26h-3.27zM316.03 146.14h3.27v3.26h-3.27zM316.03 142.88h3.27v3.26h-3.27zM316.03 120.06h3.27v3.26h-3.27zM316.03 100.50h3.27v3.26h-3.27zM316.03 90.72h3.27v3.26h-3.27zM316.03 54.86h3.27v3.26h-3.27zM316.03 51.60h3.27v3.26h-3.27zM319.30 240.68h3.27v3.26h-3.27zM319.30 234.16h3.27v3.26h-3.27zM319.30 217.86h3.27v3.26h-3.27zM319.30 214.60h3.27v3.26h-3.27zM319.30 198.30h3.27v3.26h-3.27zM319.30 188.52h3.27v3.26h-3.27zM319.30 185.26h3.27v3.26h-3.27zM319.30 182.00h3.27v3.26h-3.27zM319.30 178.74h3.27v3.26h-3.27zM319.30 175.48h3.27v3.26h-3.27zM319.30 172.22h3.27v3.26h-3.27zM319.30 162.44h3.27v3.26h-3.27zM319.30 155.92h3.27v3.26h-3.27zM319.30 152.66h3.27v3.26h-3.27zM319.30 139.62h3.27v3.26h-3.27zM319.30 126.58h3.27v3.26h-3.27zM319.30 113.54h3.27v3.26h-3.27zM322.56 204.82h3.27v3.26h-3.27zM322.56 191.78h3.27v3.26h-3.27zM322.56 185.26h3.27v3.26h-3.27zM322.56 182.00h3.27v3.26h-3.27zM322.56 178.74h3.27v3.26h-3.27zM322.56 172.22h3.27v3.26h-3.27zM322.56 162.44h3.27v3.26h-3.27zM322.56 159.18h3.27v3.26h-3.27zM322.56 152.66h3.27v3.26h-3.27zM322.56 149.40h3.27v3.26h-3.27zM322.56 146.14h3.27v3.26h-3.27zM322.56 136.36h3.27v3.26h-3.27zM322.56 133.10h3.27v3.26h-3.27zM325.83 276.54h3.27v3.26h-3.27zM325.83 250.46h3.27v3.26h-3.27zM325.83 214.60h3.27v3.26h-3.27zM325.83 204.82h3.27v3.26h-3.27zM325.83 185.26h3.27v3.26h-3.27zM325.83 168.96h3.27v3.26h-3.27zM325.83 165.70h3.27v3.26h-3.27zM325.83 152.66h3.27v3.26h-3.27zM325.83 149.40h3.27v3.26h-3.27zM325.83 142.88h3.27v3.26h-3.27zM325.83 129.84h3.27v3.26h-3.27zM325.83 123.32h3.27v3.26h-3.27zM325.83 113.54h3.27v3.26h-3.27zM325.83 110.28h3.27v3.26h-3.27zM325.83 100.50h3.27v3.26h-3.27zM329.10 227.64h3.27v3.26h-3.27zM329.10 201.56h3.27v3.26h-3.27zM329.10 198.30h3.27v3.26h-3.27zM329.10 185.26h3.27v3.26h-3.27zM329.10 162.44h3.27v3.26h-3.27zM329.10 155.92h3.27v3.26h-3.27zM329.10 152.66h3.27v3.26h-3.27zM329.10 149.40h3.27v3.26h-3.27zM329.10 136.36h3.27v3.26h-3.27zM329.10 129.84h3.27v3.26h-3.27zM329.10 126.58h3.27v3.26h-3.27zM329.10 77.68h3.27v3.26h-3.27zM329.10 74.42h3.27v3.26h-3.27zM332.37 217.86h3.27v3.26h-3.27zM332.37 214.60h3.27v3.26h-3.27zM332.37 201.56h3.27v3.26h-3.27zM332.37 191.78h3.27v3.26h-3.27zM332.37 182.00h3.27v3.26h-3.27zM332.37 178.74h3.27v3.26h-3.27zM332.37 146.14h3.27v3.26h-3.27zM332.37 136.36h3.27v3.26h-3.27zM332.37 129.84h3.27v3.26h-3.27zM332.37 120.06h3.27v3.26h-3.27zM332.37 84.20h3.27v3.26h-3.27zM335.64 227.64h3.27v3.26h-3.27zM335.64 201.56h3.27v3.26h-3.27zM335.64 178.74h3.27v3.26h-3.27zM335.64 162.44h3.27v3.26h-3.27zM335.64 155.92h3.27v3.26h-3.27zM335.64 142.88h3.27v3.26h-3.27zM335.64 136.36h3.27v3.26h-3.27zM335.64 129.84h3.27v3.26h-3.27zM335.64 110.28h3.27v3.26h-3.27zM335.64 103.76h3.27v3.26h-3.27zM335.64 84.20h3.27v3.26h-3.27zM335.64 67.90h3.27v3.26h-3.27zM338.91 204.82h3.27v3.26h-3.27zM338.91 201.56h3.27v3.26h-3.27zM338.91 188.52h3.27v3.26h-3.27zM338.91 172.22h3.27v3.26h-3.27zM338.91 139.62h3.27v3.26h-3.27zM338.91 113.54h3.27v3.26h-3.27zM338.91 64.64h3.27v3.26h-3.27zM342.18 227.64h3.27v3.26h-3.27zM342.18 217.86h3.27v3.26h-3.27zM342.18 185.26h3.27v3.26h-3.27zM342.18 159.18h3.27v3.26h-3.27zM342.18 155.92h3.27v3.26h-3.27zM342.18 120.06h3.27v3.26h-3.27zM342.18 93.98h3.27v3.26h-3.27zM342.18 67.90h3.27v3.26h-3.27zM342.18 45.08h3.27v3.26h-3.27zM345.45 208.08h3.27v3.26h-3.27zM345.45 204.82h3.27v3.26h-3.27zM345.45 185.26h3.27v3.26h-3.27zM345.45 168.96h3.27v3.26h-3.27zM345.45 155.92h3.27v3.26h-3.27zM345.45 126.58h3.27v3.26h-3.27zM345.45 123.32h3.27v3.26h-3.27zM345.45 116.80h3.27v3.26h-3.27zM345.45 103.76h3.27v3.26h-3.27zM345.45 67.90h3.27v3.26h-3.27zM345.45 61.38h3.27v3.26h-3.27zM348.72 198.30h3.27v3.26h-3.27zM348.72 129.84h3.27v3.26h-3.27zM348.72 97.24h3.27v3.26h-3.27zM348.72 84.20h3.27v3.26h-3.27zM351.99 162.44h3.27v3.26h-3.27zM351.99 152.66h3.27v3.26h-3.27zM351.99 133.10h3.27v3.26h-3.27zM351.99 123.32h3.27v3.26h-3.27zM351.99 116.80h3.27v3.26h-3.27zM351.99 110.28h3.27v3.26h-3.27zM351.99 103.76h3.27v3.26h-3.27zM351.99 100.50h3.27v3.26h-3.27zM351.99 84.20h3.27v3.26h-3.27zM351.99 80.94h3.27v3.26h-3.27zM355.26 152.66h3.27v3.26h-3.27zM355.26 120.06h3.27v3.26h-3.27zM355.26 84.20h3.27v3.26h-3.27zM355.26 74.42h3.27v3.26h-3.27zM355.26 64.64h3.27v3.26h-3.27zM355.26 58.12h3.27v3.26h-3.27zM355.26 38.56h3.27v3.26h-3.27zM358.52 253.72h3.27v3.26h-3.27zM358.52 201.56h3.27v3.26h-3.27zM358.52 185.26h3.27v3.26h-3.27zM358.52 172.22h3.27v3.26h-3.27zM358.52 155.92h3.27v3.26h-3.27zM358.52 103.76h3.27v3.26h-3.27zM361.79 175.48h3.27v3.26h-3.27zM361.79 146.14h3.27v3.26h-3.27zM361.79 123.32h3.27v3.26h-3.27zM361.79 120.06h3.27v3.26h-3.27zM361.79 100.50h3.27v3.26h-3.27zM361.79 80.94h3.27v3.26h-3.27zM361.79 77.68h3.27v3.26h-3.27zM361.79 45.08h3.27v3.26h-3.27zM365.06 168.96h3.27v3.26h-3.27zM365.06 165.70h3.27v3.26h-3.27zM365.06 146.14h3.27v3.26h-3.27zM365.06 136.36h3.27v3.26h-3.27zM365.06 129.84h3.27v3.26h-3.27zM365.06 103.76h3.27v3.26h-3.27zM365.06 64.64h3.27v3.26h-3.27zM368.33 195.04h3.27v3.26h-3.27zM368.33 168.96h3.27v3.26h-3.27zM368.33 165.70h3.27v3.26h-3.27zM368.33 139.62h3.27v3.26h-3.27zM368.33 133.10h3.27v3.26h-3.27zM368.33 129.84h3.27v3.26h-3.27zM368.33 116.80h3.27v3.26h-3.27zM368.33 113.54h3.27v3.26h-3.27zM368.33 110.28h3.27v3.26h-3.27zM368.33 67.90h3.27v3.26h-3.27zM371.60 182.00h3.27v3.26h-3.27zM371.60 175.48h3.27v3.26h-3.27zM371.60 146.14h3.27v3.26h-3.27zM371.60 142.88h3.27v3.26h-3.27zM371.60 126.58h3.27v3.26h-3.27zM371.60 87.46h3.27v3.26h-3.27zM374.87 178.74h3.27v3.26h-3.27zM374.87 165.70h3.27v3.26h-3.27zM374.87 126.58h3.27v3.26h-3.27zM374.87 107.02h3.27v3.26h-3.27zM378.14 162.44h3.27v3.26h-3.27zM378.14 107.02h3.27v3.26h-3.27zM381.41 136.36h3.27v3.26h-3.27zM381.41 133.10h3.27v3.26h-3.27zM381.41 107.02h3.27v3.26h-3.27zM381.41 41.82h3.27v3.26h-3.27zM384.68 54.86h3.27v3.26h-3.27zM387.95 142.88h3.27v3.26h-3.27zM387.95 113.54h3.27v3.26h-3.27zM387.95 84.20h3.27v3.26h-3.27z"/>
<path fill="rgb(0,58,255)" d="M96.99 374.34h3.27v3.26h-3.27zM96.99 364.56h3.27v3.26h-3.27zM96.99 325.44h3.27v3.26h-3.27zM100.26 387.38h3.27v3.26h-3.27zM100.26 384.12h3.27v3.26h-3.27zM100.26 374.34h3.27v3.26h-3.27zM100.26 358.04h3.27v3.26h-3.27zM103.53 380.86h3.27v3.26h-3.27zM103.53 371.08h3.27v3.26h-3.27zM103.53 367.82h3.27v3.26h-3.27zM103.53 325.44h3.27v3.26h-3.27zM106.80 367.82h3.27v3.26h-3.27zM106.80 358.04h3.27v3.26h-3.27zM106.80 345.00h3.27v3.26h-3.27zM106.80 338.48h3.27v3.26h-3.27zM106.80 328.70h3.27v3.26h-3.27zM110.07 364.56h3.27v3.26h-3.27zM110.07 351.52h3.27v3.26h-3.27zM110.07 341.74h3.27v3.26h-3.27zM110.07 335.22h3.27v3.26h-3.27zM110.07 331.96h3.27v3.26h-3.27zM110.07 312.40h3.27v3.26h-3.27zM113.34 351.52h3.27v3.26h-3.27zM113.34 345.00h3.27v3.26h-3.27zM113.34 338.48h3.27v3.26h-3.27zM116.61 345.00h3.27v3.26h-3.27zM116.61 341.74h3.27v3.26h-3.27zM116.61 325.44h3.27v3.26h-3.27zM116.61 322.18h3.27v3.26h-3.27zM116.61 318.92h3.27v3.26h-3.27zM119.88 364.56h3.27v3.26h-3.27zM119.88 354.78h3.27v3.26h-3.27zM119.88 325.44h3.27v3.26h-3.27zM123.14 367.82h3.27v3.26h-3.27zM123.14 331.96h3.27v3.26h-3.27zM123.14 318.92h3.27v3.26h-3.27zM123.14 305.88h3.27v3.26h-3.27zM126.41 354.78h3.27v3.26h-3.27zM126.41 348.26h3.27v3.26h-3.27zM126.41 341.74h3.27v3.26h-3.27zM126.41 338.48h3.27v3.26h-3.27zM126.41 325.44h3.27v3.26h-3.27zM129.68 345.00h3.27v3.26h-3.27zM129.68 331.96h3.27v3.26h-3.27zM129.68 325.44h3.27v3.26h-3.27zM129.68 322.18h3.27v3.26h-3.27zM129.68 299.36h3.27v3.26h-3.27zM132.95 364.56h3.27v3.26h-3.27zM132.95 358.04h3.27v3.26h-3.27zM132.95 345.00h3.27v3.26h-3.27zM132.95 328.70h3.27v3.26h-3.27zM132.95 325.44h3.27v3.26h-3.27zM132.95 322.18h3.27v3.26h-3.27zM132.95 315.66h3.27v3.26h-3.27zM132.95 305.88h3.27v3.26h-3.27zM132.95 286.32h3.27v3.26h-3.27zM136.22 358.04h3.27v3.26h-3.27zM136.22 354.78h3.27v3.26h-3.27zM136.22 351.52h3.27v3.26h-3.27zM136.22 335.22h3.27v3.26h-3.27zM136.22 315.66h3.27v3.26h-3.27zM136.22 312.40h3.27v3.26h-3.27zM136.22 302.62h3.27v3.26h-3.27zM136.22 296.10h3.27v3.26h-3.27zM139.49 367.82h3.27v3.26h-3.27zM139.49 348.26h3.27v3.26h-3.27zM139.49 312.40h3.27v3.26h-3.27zM139.49 305.88h3.27v3.26h-3.27zM139.49 299.36h3.27v3.26h-3.27zM139.49 250.46h3.27v3.26h-3.27zM142.76 361.30h3.27v3.26h-3.27zM142.76 358.04h3.27v3.26h-3.27zM142.76 335.22h3.27v3.26h-3.27zM142.76 328.70h3.27v3.26h-3.27zM142.76 318.92h3.27v3.26h-3.27zM142.76 315.66h3.27v3.26h-3.27zM142.76 305.88h3.27v3.26h-3.27zM142.76 266.76h3.27v3.26h-3.27zM146.03 351.52h3.27v3.26h-3.27zM146.03 345.00h3.27v3.26h-3.27zM146.03 341.74h3.27v3.26h-3.27zM146.03 318.92h3.27v3.26h-3.27zM146.03 299.36h3.27v3.26h-3.27zM146.03 289.58h3.27v3.26h-3.27zM146.03 286.32h3.27v3.26h-3.27zM146.03 276.54h3.27v3.26h-3.27zM146.03 256.98h3.27v3.26h-3.27zM146.03 253.72h3.27v3.26h-3.27zM149.30 341.74h3.27v3.26h-3.27zM149.30 338.48h3.27v3.26h-3.27zM149.30 318.92h3.27v3.26h-3.27zM149.30 309.14h3.27v3.26h-3.27zM149.30 305.88h3.27v3.26h-3.27zM149.30 302.62h3.27v3.26h-3.27zM149.30 260.24h3.27v3.26h-3.27zM149.30 253.72h3.27v3.26h-3.27zM152.57 348.26h3.27v3.26h-3.27zM152.57 299.36h3.27v3.26h-3.27zM152.57 286.32h3.27v3.26h-3.27zM152.57 279.80h3.27v3.26h-3.27zM152.57 276.54h3.27v3.26h-3.27zM155.84 345.00h3.27v3.26h-3.27zM155.84 338.48h3.27v3.26h-3.27zM155.84 328.70h3.27v3.26h-3.27zM155.84 322.18h3.27v3.26h-3.27zM155.84 286.32h3.27v3.26h-3.27zM155.84 270.02h3.27v3.26h-3.27zM155.84 214.60h3.27v3.26h-3.27zM159.11 338.48h3.27v3.26h-3.27zM159.11 289.58h3.27v3.26h-3.27zM159.11 279.80h3.27v3.26h-3.27zM159.11 263.50h3.27v3.26h-3.27zM159.11 253.72h3.27v3.26h-3.27zM162.38 325.44h3.27v3.26h-3.27zM162.38 296.10h3.27v3.26h-3.27zM162.38 279.80h3.27v3.26h-3.27zM162.38 276.54h3.27v3.26h-3.27zM162.38 270.02h3.27v3.26h-3.27zM162.38 263.50h3.27v3.26h-3.27zM165.64 338.48h3.27v3.26h-3.27zM165.64 335.22h3.27v3.26h-3.27zM165.64 328.70h3.27v3.26h-3.27zM165.64 318.92h3.27v3.26h-3.27zM165.64 312.40h3.27v3.26h-3.27zM165.64 292.84h3.27v3.26h-3.27zM165.64 289.58h3.27v3.26h-3.27zM165.64 286.32h3.27v3.26h-3.27zM168.91 331.96h3.27v3.26h-3.27zM168.91 318.92h3.27v3.26h-3.27zM168.91 312.40h3.27v3.26h-3.27zM168.91 305.88h3.27v3.26h-3.27zM168.91 283.06h3.27v3.26h-3.27zM168.91 279.80h3.27v3.26h-3.27zM168.91 270.02h3.27v3.26h-3.27zM168.91 227.64h3.27v3.26h-3.27zM172.18 328.70h3.27v3.26h-3.27zM172.18 286.32h3.27v3.26h-3.27zM172.18 263.50h3.27v3.26h-3.27zM172.18 250.46h3.27v3.26h-3.27zM175.45 328.70h3.27v3.26h-3.27zM175.45 315.66h3.27v3.26h-3.27zM175.45 309.14h3.27v3.26h-3.27zM175.45 292.84h3.27v3.26h-3.27zM175.45 286.32h3.27v3.26h-3.27zM175.45 266.76h3.27v3.26h-3.27zM175.45 256.98h3.27v3.26h-3.27zM175.45 247.20h3.27v3.26h-3.27zM175.45 208.08h3.27v3.26h-3.27zM175.45 188.52h3.27v3.26h-3.27zM178.72 322.18h3.27v3.26h-3.27zM178.72 318.92h3.27v3.26h-3.27zM178.72 309.14h3.27v3.26h-3.27zM178.72 289.58h3.27v3.26h-3.27zM178.72 283.06h3.27v3.26h-3.27zM178.72 276.54h3.27v3.26h-3.27zM178.72 240.68h3.27v3.26h-3.27zM178.72 214.60h3.27v3.26h-3.27zM178.72 198.30h3.27v3.26h-3.27zM178.72 195.04h3.27v3.26h-3.27zM178.72 172.22h3.27v3.26h-3.27zM181.99 302.62h3.27v3.26h-3.27zM181.99 296.10h3.27v3.26h-3.27zM181.99 276.54h3.27v3.26h-3.27zM181.99 273.28h3.27v3.26h-3.27zM181.99 260.24h3.27v3.26h-3.27zM181.99 240.68h3.27v3.26h-3.27zM185.26 312.40h3.27v3.26h-3.27zM188.53 341.74h3.27v3.26h-3.27zM188.53 309.14h3.27v3.26h-3.27zM188.53 305.88h3.27v3.26h-3.27zM188.53 299.36h3.27v3.26h-3.27zM188.53 296.10h3.27v3.26h-3.27zM188.53 279.80h3.27v3.26h-3.27zM188.53 273.28h3.27v3.26h-3.27zM188.53 270.02h3.27v3.26h-3.27zM188.53 247.20h3.27v3.26h-3.27zM188.53 227.64h3.27v3.26h-3.27zM188.53 211.34h3.27v3.26h-3.27zM188.53 201.56h3.27v3.26h-3.27zM188.53 191.78h3.27v3.26h-3.27zM191.80 325.44h3.27v3.26h-3.27zM191.80 309.14h3.27v3.26h-3.27zM191.80 305.88h3.27v3.26h-3.27zM191.80 296.10h3.27v3.26h-3.27zM191.80 289.58h3.27v3.26h-3.27zM191.80 266.76h3.27v3.26h-3.27zM191.80 253.72h3.27v3.26h-3.27zM191.80 250.46h3.27v3.26h-3.27zM191.80 247.20h3.27v3.26h-3.27zM191.80 230.90h3.27v3.26h-3.27zM191.80 221.12h3.27v3.26h-3.27zM195.07 309.14h3.27v3.26h-3.27zM195.07 263.50h3.27v3.26h-3.27zM195.07 237.42h3.27v3.26h-3.27zM195.07 227.64h3.27v3.26h-3.27zM195.07 224.38h3.27v3.26h-3.27zM195.07 221.12h3.27v3.26h-3.27zM195.07 217.86h3.27v3.26h-3.27zM198.34 309.14h3.27v3.26h-3.27zM198.34 289.58h3.27v3.26h-3.27zM198.34 273.28h3.27v3.26h-3.27zM198.34 270.02h3.27v3.26h-3.27zM198.34 266.76h3.27v3.26h-3.27zM198.34 243.94h3.27v3.26h-3.27zM198.34 227.64h3.27v3.26h-3.27zM198.34 214.60h3.27v3.26h-3.27zM198.34 208.08h3.27v3.26h-3.27zM198.34 195.04h3.27v3.26h-3.27zM201.61 309.14h3.27v3.26h-3.27zM201.61 299.36h3.27v3.26h-3.27zM201.61 296.10h3.27v3.26h-3.27zM201.61 279.80h3.27v3.26h-3.27zM201.61 247.20h3.27v3.26h-3.27zM201.61 243.94h3.27v3.26h-3.27zM201.61 227.64h3.27v3.26h-3.27zM204.87 299.36h3.27v3.26h-3.27zM204.87 296.10h3.27v3.26h-3.27zM204.87 286.32h3.27v3.26h-3.27zM204.87 270.02h3.27v3.26h-3.27zM204.87 227.64h3.27v3.26h-3.27zM204.87 221.12h3.27v3.26h-3.27zM208.14 289.58h3.27v3.26h-3.27zM208.14 273.28h3.27v3.26h-3.27zM208.14 263.50h3.27v3.26h-3.27zM208.14 217.86h3.27v3.26h-3.27zM208.14 182.00h3.27v3.26h-3.27zM211.41 302.62h3.27v3.26h-3.27zM211.41 270.02h3.27v3.26h-3.27zM211.41 253.72h3.27v3.26h-3.27zM211.41 250.46h3.27v3.26h-3.27zM211.41 237.42h3.27v3.26h-3.27zM211.41 227.64h3.27v3.26h-3.27zM211.41 224.38h3.27v3.26h-3.27zM214.68 276.54h3.27v3.26h-3.27zM214.68 273.28h3.27v3.26h-3.27zM214.68 266.76h3.27v3.26h-3.27zM214.68 260.24h3.27v3.26h-3.27zM214.68 256.98h3.27v3.26h-3.27zM214.68 217.86h3.27v3.26h-3.27zM214.68 191.78h3.27v3.26h-3.27zM217.95 299.36h3.27v3.26h-3.27zM217.95 292.84h3.27v3.26h-3.27zM217.95 289.58h3.27v3.26h-3.27zM217.95 279.80h3.27v3.26h-3.27zM217.95 273.28h3.27v3.26h-3.27zM217.95 260.24h3.27v3.26h-3.27zM217.95 253.72h3.27v3.26h-3.27zM217.95 243.94h3.27v3.26h-3.27zM217.95 224.38h3.27v3.26h-3.27zM217.95 214.60h3.27v3.26h-3.27zM221.22 289.58h3.27v3.26h-3.27zM221.22 270.02h3.27v3.26h-3.27zM221.22 247.20h3.27v3.26h-3.27zM221.22 243.94h3.27v3.26h-3.27zM221.22 237.42h3.27v3.26h-3.27zM221.22 230.90h3.27v3.26h-3.27zM221.22 221.12h3.27v3.26h-3.27zM221.22 208.08h3.27v3.26h-3.27zM224.49 302.62h3.27v3.26h-3.27zM224.49 296.10h3.27v3.26h-3.27zM224.49 273.28h3.27v3.26h-3.27zM224.49 260.24h3.27v3.26h-3.27zM224.49 256.98h3.27v3.26h-3.27zM224.49 253.72h3.27v3.26h-3.27zM224.49 237.42h3.27v3.26h-3.27zM224.49 234.16h3.27v3.26h-3.27zM224.49 224.38h3.27v3.26h-3.27zM224.49 182.00h3.27v3.26h-3.27zM227.76 279.80h3.27v3.26h-3.27zM227.76 276.54h3.27v3.26h-3.27zM227.76 263.50h3.27v3.26h-3.27zM227.76 260.24h3.27v3.26h-3.27zM227.76 247.20h3.27v3.26h-3.27zM227.76 243.94h3.27v3.26h-3.27zM227.76 237.42h3.27v3.26h-3.27zM227.76 234.16h3.27v3.26h-3.27zM227.76 214.60h3.27v3.26h-3.27zM227.76 191.78h3.27v3.26h-3.27zM227.76 126.58h3.27v3.26h-3.27zM231.03 312.40h3.27v3.26h-3.27zM231.03 276.54h3.27v3.26h-3.27zM231.03 273.28h3.27v3.26h-3.27zM231.03 250.46h3.27v3.26h-3.27zM231.03 234.16h3.27v3.26h-3.27zM231.03 227.64h3.27v3.26h-3.27zM231.03 211.34h3.27v3.26h-3.27zM231.03 191.78h3.27v3.26h-3.27zM231.03 162.44h3.27v3.26h-3.27zM234.30 318.92h3.27v3.26h-3.27zM234.30 296.10h3.27v3.26h-3.27zM234.30 289.58h3.27v3.26h-3.27zM234.30 279.80h3.27v3.26h-3.27zM234.30 276.54h3.27v3.26h-3.27zM234.30 247.20h3.27v3.26h-3.27zM234.30 243.94h3.27v3.26h-3.27zM234.30 234.16h3.27v3.26h-3.27zM234.30 227.64h3.27v3.26h-3.27zM234.30 217.86h3.27v3.26h-3.27zM234.30 204.82h3.27v3.26h-3.27zM237.57 250.46h3.27v3.26h-3.27zM237.57 211.34h3.27v3.26h-3.27zM237.57 195.04h3.27v3.26h-3.27zM240.83 273.28h3.27v3.26h-3.27zM240.83 270.02h3.27v3.26h-3.27zM240.83 263.50h3.27v3.26h-3.27zM240.83 260.24h3.27v3.26h-3.27zM240.83 214.60h3.27v3.26h-3.27zM240.83 208.08h3.27v3.26h-3.27zM244.10 289.58h3.27v3.26h-3.27zM244.10 279.80h3.27v3.26h-3.27zM244.10 263.50h3.27v3.26h-3.27zM244.10 256.98h3.27v3.26h-3.27zM244.10 240.68h3.27v3.26h-3.27zM244.10 230.90h3.27v3.26h-3.27zM244.10 227.64h3.27v3.26h-3.27zM244.10 224.38h3.27v3.26h-3.27zM244.10 178.74h3.27v3.26h-3.27zM247.37 260.24h3.27v3.26h-3.27zM247.37 240.68h3.27v3.26h-3.27zM247.37 237.42h3.27v3.26h-3.27zM247.37 217.86h3.27v3.26h-3.27zM247.37 208.08h3.27v3.26h-3.27zM247.37 195.04h3.27v3.26h-3.27zM247.37 182.00h3.27v3.26h-3.27zM250.64 292.84h3.27v3.26h-3.27zM250.64 289.58h3.27v3.26h-3.27zM250.64 276.54h3.27v3.26h-3.27zM250.64 270.02h3.27v3.26h-3.27zM250.64 253.72h3.27v3.26h-3.27zM250.64 250.46h3.27v3.26h-3.27zM250.64 240.68h3.27v3.26h-3.27zM250.64 217.86h3.27v3.26h-3.27zM250.64 204.82h3.27v3.26h-3.27zM250.64 191.78h3.27v3.26h-3.27zM250.64 182.00h3.27v3.26h-3.27zM253.91 279.80h3.27v3.26h-3.27zM253.91 266.76h3.27v3.26h-3.27zM253.91 263.50h3.27v3.26h-3.27zM253.91 260.24h3.27v3.26h-3.27zM253.91 253.72h3.27v3.26h-3.27zM253.91 198.30h3.27v3.26h-3.27zM253.91 195.04h3.27v3.26h-3.27zM253.91 185.26h3.27v3.26h-3.27zM257.18 263.50h3.27v3.26h-3.27zM257.18 221.12h3.27v3.26h-3.27zM257.18 217.86h3.27v3.26h-3.27zM257.18 211.34h3.27v3.26h-3.27zM257.18 182.00h3.27v3.26h-3.27zM260.45 270.02h3.27v3.26h-3.27zM260.45 234.16h3.27v3.26h-3.27zM260.45 227.64h3.27v3.26h-3.27zM260.45 224.38h3.27v3.26h-3.27zM260.45 217.86h3.27v3.26h-3.27zM260.45 204.82h3.27v3.26h-3.27zM263.72 270.02h3.27v3.26h-3.27zM263.72 253.72h3.27v3.26h-3.27zM263.72 250.46h3.27v3.26h-3.27zM263.72 230.90h3.27v3.26h-3.27zM263.72 214.60h3.27v3.26h-3.27zM263.72 208.08h3.27v3.26h-3.27zM263.72 201.56h3.27v3.26h-3.27zM263.72 191.78h3.27v3.26h-3.27zM266.99 260.24h3.27v3.26h-3.27zM266.99 253.72h3.27v3.26h-3.27zM266.99 247.20h3.27v3.26h-3.27zM266.99 240.68h3.27v3.26h-3.27zM266.99 237.42h3.27v3.26h-3.27zM266.99 234.16h3.27v3.26h-3.27zM266.99 230.90h3.27v3.26h-3.27zM266.99 227.64h3.27v3.26h-3.27zM266.99 208.08h3.27v3.26h-3.27zM266.99 201.56h3.27v3.26h-3.27zM266.99 188.52h3.27v3.26h-3.27zM266.99 185.26h3.27v3.26h-3.27zM270.26 201.56h3.27v3.26h-3.27zM270.26 165.70h3.27v3.26h-3.27zM273.53 270.02h3.27v3.26h-3.27zM273.53 256.98h3.27v3.26h-3.27zM273.53 250.46h3.27v3.26h-3.27zM273.53 237.42h3.27v3.26h-3.27zM273.53 234.16h3.27v3.26h-3.27zM273.53 217.86h3.27v3.26h-3.27zM273.53 211.34h3.27v3.26h-3.27zM273.53 175.48h3.27v3.26h-3.27zM273.53 162.44h3.27v3.26h-3.27zM276.80 240.68h3.27v3.26h-3.27zM276.80 227.64h3.27v3.26h-3.27zM276.80 214.60h3.27v3.26h-3.27zM276.80 204.82h3.27v3.26h-3.27zM276.80 182.00h3.27v3.26h-3.27zM276.80 178.74h3.27v3.26h-3.27zM280.06 273.28h3.27v3.26h-3.27zM280.06 230.90h3.27v3.26h-3.27zM280.06 227.64h3.27v3.26h-3.27zM280.06 214.60h3.27v3.26h-3.27zM280.06 201.56h3.27v3.26h-3.27zM280.06 185.26h3.27v3.26h-3.27zM283.33 214.60h3.27v3.26h-3.27zM283.33 211.34h3.27v3.26h-3.27zM283.33 208.08h3.27v3.26h-3.27zM283.33 204.82h3.27v3.26h-3.27zM283.33 198.30h3.27v3.26h-3.27zM283.33 195.04h3.27v3.26h-3.27zM283.33 185.26h3.27v3.26h-3.27zM283.33 182.00h3.27v3.26h-3.27zM283.33 178.74h3.27v3.26h-3.27zM283.33 172.22h3.27v3.26h-3.27zM286.60 243.94h3.27v3.26h-3.27zM286.60 237.42h3.27v3.26h-3.27zM286.60 208.08h3.27v3.26h-3.27zM286.60 191.78h3.27v3.26h-3.27zM286.60 116.80h3.27v3.26h-3.27zM289.87 237.42h3.27v3.26h-3.27zM289.87 230.90h3.27v3.26h-3.27zM289.87 217.86h3.27v3.26h-3.27zM289.87 201.56h3.27v3.26h-3.27zM289.87 175.48h3.27v3.26h-3.27zM289.87 168.96h3.27v3.26h-3.27zM293.14 247.20h3.27v3.26h-3.27zM293.14 234.16h3.27v3.26h-3.27zM293.14 227.64h3.27v3.26h-3.27zM293.14 155.92h3.27v3.26h-3.27zM296.41 250.46h3.27v3.26h-3.27zM296.41 217.86h3.27v3.26h-3.27zM296.41 188.52h3.27v3.26h-3.27zM296.41 155.92h3.27v3.26h-3.27zM299.68 247.20h3.27v3.26h-3.27zM299.68 227.64h3.27v3.26h-3.27zM299.68 113.54h3.27v3.26h-3.27zM302.95 198.30h3.27v3.26h-3.27zM302.95 185.26h3.27v3.26h-3.27zM302.95 178.74h3.27v3.26h-3.27zM302.95 165.70h3.27v3.26h-3.27zM306.22 195.04h3.27v3.26h-3.27zM309.49 188.52h3.27v3.26h-3.27zM309.49 185.26h3.27v3.26h-3.27zM309.49 172.22h3.27v3.26h-3.27zM309.49 152.66h3.27v3.26h-3.27zM312.76 217.86h3.27v3.26h-3.27zM312.76 195.04h3.27v3.26h-3.27zM312.76 159.18h3.27v3.26h-3.27zM316.03 234.16h3.27v3.26h-3.27zM316.03 214.60h3.27v3.26h-3.27zM316.03 165.70h3.27v3.26h-3.27zM316.03 149.40h3.27v3.26h-3.27zM319.30 168.96h3.27v3.26h-3.27zM322.56 168.96h3.27v3.26h-3.27zM322.56 123.32h3.27v3.26h-3.27zM325.83 211.34h3.27v3.26h-3.27zM325.83 201.56h3.27v3.26h-3.27zM325.83 178.74h3.27v3.26h-3.27zM325.83 159.18h3.27v3.26h-3.27zM329.10 182.00h3.27v3.26h-3.27zM329.10 165.70h3.27v3.26h-3.27zM329.10 133.10h3.27v3.26h-3.27zM329.10 120.06h3.27v3.26h-3.27zM332.37 188.52h3.27v3.26h-3.27zM332.37 172.22h3.27v3.26h-3.27zM332.37 159.18h3.27v3.26h-3.27zM332.37 142.88h3.27v3.26h-3.27zM332.37 71.16h3.27v3.26h-3.27zM338.91 126.58h3.27v3.26h-3.27zM338.91 100.50h3.27v3.26h-3.27zM342.18 172.22h3.27v3.26h-3.27zM342.18 149.40h3.27v3.26h-3.27zM342.18 87.46h3.27v3.26h-3.27zM348.72 175.48h3.27v3.26h-3.27zM348.72 168.96h3.27v3.26h-3.27zM348.72 136.36h3.27v3.26h-3.27zM348.72 126.58h3.27v3.26h-3.27zM351.99 155.92h3.27v3.26h-3.27zM351.99 136.36h3.27v3.26h-3.27zM351.99 126.58h3.27v3.26h-3.27zM355.26 201.56h3.27v3.26h-3.27zM355.26 149.40h3.27v3.26h-3.27zM361.79 172.22h3.27v3.26h-3.27zM361.79 159.18h3.27v3.26h-3.27zM368.33 188.52h3.27v3.26h-3.27zM371.60 165.70h3.27v3.26h-3.27zM381.41 129.84h3.27v3.26h-3.27z"/>
<path fill="rgb(0,151,255)" d="M93.72 380.86h3.27v3.26h-3.27zM100.26 371.08h3.27v3.26h-3.27zM100.26 364.56h3.27v3.26h-3.27zM103.53 374.34h3.27v3.26h-3.27zM110.07 358.04h3.27v3.26h-3.27zM110.07 348.26h3.27v3.26h-3.27zM113.34 371.08h3.27v3.26h-3.27zM113.34 348.26h3.27v3.26h-3.27zM116.61 367.82h3.27v3.26h-3.27zM116.61 338.48h3.27v3.26h-3.27zM119.88 361.30h3.27v3.26h-3.27zM119.88 345.00h3.27v3.26h-3.27zM119.88 276.54h3.27v3.26h-3.27zM123.14 361.30h3.27v3.26h-3.27zM123.14 351.52h3.27v3.26h-3.27zM123.14 348.26h3.27v3.26h-3.27zM123.14 341.74h3.27v3.26h-3.27zM123.14 335.22h3.27v3.26h-3.27zM123.14 322.18h3.27v3.26h-3.27zM126.41 367.82h3.27v3.26h-3.27zM126.41 331.96h3.27v3.26h-3.27zM126.41 318.92h3.27v3.26h-3.27zM126.41 302.62h3.27v3.26h-3.27zM129.68 358.04h3.27v3.26h-3.27zM129.68 348.26h3.27v3.26h-3.27zM129.68 338.48h3.27v3.26h-3.27zM129.68 335.22h3.27v3.26h-3.27zM129.68 318.92h3.27v3.26h-3.27zM129.68 289.58h3.27v3.26h-3.27zM136.22 331.96h3.27v3.26h-3.27zM139.49 351.52h3.27v3.26h-3.27zM139.49 341.74h3.27v3.26h-3.27zM139.49 302.62h3.27v3.26h-3.27zM142.76 348.26h3.27v3.26h-3.27zM142.76 338.48h3.27v3.26h-3.27zM142.76 312.40h3.27v3.26h-3.27zM146.03 338.48h3.27v3.26h-3.27zM146.03 331.96h3.27v3.26h-3.27zM146.03 325.44h3.27v3.26h-3.27zM146.03 296.10h3.27v3.26h-3.27zM149.30 325.44h3.27v3.26h-3.27zM149.30 299.36h3.27v3.26h-3.27zM149.30 283.06h3.27v3.26h-3.27zM152.57 338.48h3.27v3.26h-3.27zM152.57 315.66h3.27v3.26h-3.27zM152.57 266.76h3.27v3.26h-3.27zM155.84 335.22h3.27v3.26h-3.27zM155.84 289.58h3.27v3.26h-3.27zM155.84 279.80h3.27v3.26h-3.27zM155.84 276.54h3.27v3.26h-3.27zM159.11 341.74h3.27v3.26h-3.27zM159.11 335.22h3.27v3.26h-3.27zM159.11 331.96h3.27v3.26h-3.27zM159.11 322.18h3.27v3.26h-3.27zM159.11 292.84h3.27v3.26h-3.27zM159.11 286.32h3.27v3.26h-3.27zM159.11 276.54h3.27v3.26h-3.27zM162.38 318.92h3.27v3.26h-3.27zM162.38 305.88h3.27v3.26h-3.27zM162.38 299.36h3.27v3.26h-3.27zM162.38 273.28h3.27v3.26h-3.27zM165.64 325.44h3.27v3.26h-3.27zM165.64 322.18h3.27v3.26h-3.27zM165.64 302.62h3.27v3.26h-3.27zM165.64 296.10h3.27v3.26h-3.27zM165.64 279.80h3.27v3.26h-3.27zM165.64 276.54h3.27v3.26h-3.27zM168.91 315.66h3.27v3.26h-3.27zM168.91 309.14h3.27v3.26h-3.27zM168.91 302.62h3.27v3.26h-3.27zM168.91 296.10h3.27v3.26h-3.27zM168.91 292.84h3.27v3.26h-3.27zM168.91 250.46h3.27v3.26h-3.27zM168.91 243.94h3.27v3.26h-3.27zM172.18 318.92h3.27v3.26h-3.27zM172.18 312.40h3.27v3.26h-3.27zM172.18 305.88h3.27v3.26h-3.27zM172.18 289.58h3.27v3.26h-3.27zM172.18 279.80h3.27v3.26h-3.27zM172.18 270.02h3.27v3.26h-3.27zM175.45 302.62h3.27v3.26h-3.27zM175.45 273.28h3.27v3.26h-3.27zM175.45 270.02h3.27v3.26h-3.27zM178.72 312.40h3.27v3.26h-3.27zM178.72 305.88h3.27v3.26h-3.27zM178.72 270.02h3.27v3.26h-3.27zM178.72 263.50h3.27v3.26h-3.27zM178.72 256.98h3.27v3.26h-3.27zM181.99 305.88h3.27v3.26h-3.27zM181.99 283.06h3.27v3.26h-3.27zM181.99 279.80h3.27v3.26h-3.27zM181.99 217.86h3.27v3.26h-3.27zM185.26 296.10h3.27v3.26h-3.27zM185.26 276.54h3.27v3.26h-3.27zM185.26 273.28h3.27v3.26h-3.27zM185.26 263.50h3.27v3.26h-3.27zM185.26 237.42h3.27v3.26h-3.27zM188.53 263.50h3.27v3.26h-3.27zM188.53 253.72h3.27v3.26h-3.27zM188.53 237.42h3.27v3.26h-3.27zM191.80 322.18h3.27v3.26h-3.27zM191.80 292.84h3.27v3.26h-3.27zM191.80 286.32h3.27v3.26h-3.27zM191.80 273.28h3.27v3.26h-3.27zM191.80 260.24h3.27v3.26h-3.27zM191.80 256.98h3.27v3.26h-3.27zM195.07 302.62h3.27v3.26h-3.27zM195.07 283.06h3.27v3.26h-3.27zM195.07 276.54h3.27v3.26h-3.27zM195.07 266.76h3.27v3.26h-3.27zM195.07 260.24h3.27v3.26h-3.27zM195.07 243.94h3.27v3.26h-3.27zM195.07 234.16h3.27v3.26h-3.27zM198.34 305.88h3.27v3.26h-3.27zM198.34 292.84h3.27v3.26h-3.27zM198.34 286.32h3.27v3.26h-3.27zM198.34 253.72h3.27v3.26h-3.27zM198.34 250.46h3.27v3.26h-3.27zM198.34 247.20h3.27v3.26h-3.27zM198.34 237.42h3.27v3.26h-3.27zM198.34 204.82h3.27v3.26h-3.27zM201.61 292.84h3.27v3.26h-3.27zM201.61 286.32h3.27v3.26h-3.27zM201.61 283.06h3.27v3.26h-3.27zM201.61 276.54h3.27v3.26h-3.27zM201.61 253.72h3.27v3.26h-3.27zM204.87 289.58h3.27v3.26h-3.27zM204.87 273.28h3.27v3.26h-3.27zM204.87 256.98h3.27v3.26h-3.27zM204.87 250.46h3.27v3.26h-3.27zM204.87 243.94h3.27v3.26h-3.27zM208.14 305.88h3.27v3.26h-3.27zM208.14 302.62h3.27v3.26h-3.27zM208.14 286.32h3.27v3.26h-3.27zM208.14 270.02h3.27v3.26h-3.27zM208.14 247.20h3.27v3.26h-3.27zM208.14 234.16h3.27v3.26h-3.27zM211.41 312.40h3.27v3.26h-3.27zM211.41 289.58h3.27v3.26h-3.27zM211.41 263.50h3.27v3.26h-3.27zM211.41 234.16h3.27v3.26h-3.27zM211.41 204.82h3.27v3.26h-3.27zM214.68 296.10h3.27v3.26h-3.27zM214.68 283.06h3.27v3.26h-3.27zM214.68 240.68h3.27v3.26h-3.27zM214.68 234.16h3.27v3.26h-3.27zM214.68 230.90h3.27v3.26h-3.27zM217.95 302.62h3.27v3.26h-3.27zM217.95 270.02h3.27v3.26h-3.27zM217.95 263.50h3.27v3.26h-3.27zM217.95 250.46h3.27v3.26h-3.27zM221.22 292.84h3.27v3.26h-3.27zM221.22 253.72h3.27v3.26h-3.27zM224.49 247.20h3.27v3.26h-3.27zM224.49 243.94h3.27v3.26h-3.27zM224.49 230.90h3.27v3.26h-3.27zM224.49 201.56h3.27v3.26h-3.27zM227.76 286.32h3.27v3.26h-3.27zM227.76 266.76h3.27v3.26h-3.27zM227.76 253.72h3.27v3.26h-3.27zM227.76 250.46h3.27v3.26h-3.27zM227.76 224.38h3.27v3.26h-3.27zM227.76 217.86h3.27v3.26h-3.27zM227.76 211.34h3.27v3.26h-3.27zM231.03 279.80h3.27v3.26h-3.27zM231.03 270.02h3.27v3.26h-3.27zM231.03 266.76h3.27v3.26h-3.27zM231.03 247.20h3.27v3.26h-3.27zM231.03 243.94h3.27v3.26h-3.27zM231.03 214.60h3.27v3.26h-3.27zM231.03 201.56h3.27v3.26h-3.27zM234.30 286.32h3.27v3.26h-3.27zM234.30 237.42h3.27v3.26h-3.27zM234.30 214.60h3.27v3.26h-3.27zM237.57 243.94h3.27v3.26h-3.27zM237.57 234.16h3.27v3.26h-3.27zM237.57 230.90h3.27v3.26h-3.27zM237.57 224.38h3.27v3.26h-3.27zM240.83 266.76h3.27v3.26h-3.27zM240.83 243.94h3.27v3.26h-3.27zM240.83 234.16h3.27v3.26h-3.27zM240.83 201.56h3.27v3.26h-3.27zM244.10 253.72h3.27v3.26h-3.27zM244.10 237.42h3.27v3.26h-3.27zM244.10 234.16h3.27v3.26h-3.27zM247.37 270.02h3.27v3.26h-3.27zM247.37 243.94h3.27v3.26h-3.27zM247.37 221.12h3.27v3.26h-3.27zM250.64 283.06h3.27v3.26h-3.27zM250.64 247.20h3.27v3.26h-3.27zM257.18 289.58h3.27v3.26h-3.27zM257.18 270.02h3.27v3.26h-3.27zM257.18 247.20h3.27v3.26h-3.27zM257.18 234.16h3.27v3.26h-3.27zM257.18 227.64h3.27v3.26h-3.27zM257.18 224.38h3.27v3.26h-3.27zM257.18 204.82h3.27v3.26h-3.27zM260.45 243.94h3.27v3.26h-3.27zM260.45 221.12h3.27v3.26h-3.27zM260.45 201.56h3.27v3.26h-3.27zM263.72 263.50h3.27v3.26h-3.27zM263.72 256.98h3.27v3.26h-3.27zM263.72 243.94h3.27v3.26h-3.27zM263.72 198.30h3.27v3.26h-3.27zM266.99 214.60h3.27v3.26h-3.27zM270.26 266.76h3.27v3.26h-3.27zM270.26 240.68h3.27v3.26h-3.27zM270.26 230.90h3.27v3.26h-3.27zM270.26 182.00h3.27v3.26h-3.27zM270.26 178.74h3.27v3.26h-3.27zM273.53 263.50h3.27v3.26h-3.27zM273.53 260.24h3.27v3.26h-3.27zM273.53 191.78h3.27v3.26h-3.27zM276.80 237.42h3.27v3.26h-3.27zM276.80 217.86h3.27v3.26h-3.27zM276.80 208.08h3.27v3.26h-3.27zM276.80 175.48h3.27v3.26h-3.27zM283.33 256.98h3.27v3.26h-3.27zM283.33 237.42h3.27v3.26h-3.27zM283.33 224.38h3.27v3.26h-3.27zM289.87 195.04h3.27v3.26h-3.27zM289.87 188.52h3.27v3.26h-3.27zM289.87 185.26h3.27v3.26h-3.27zM293.14 243.94h3.27v3.26h-3.27zM293.14 237.42h3.27v3.26h-3.27zM293.14 191.78h3.27v3.26h-3.27zM302.95 217.86h3.27v3.26h-3.27zM306.22 126.58h3.27v3.26h-3.27zM309.49 182.00h3.27v3.26h-3.27zM319.30 136.36h3.27v3.26h-3.27zM322.56 175.48h3.27v3.26h-3.27zM329.10 178.74h3.27v3.26h-3.27z"/>
<path fill="rgb(0,243,255)" d="M103.53 361.30h3.27v3.26h-3.27zM106.80 361.30h3.27v3.26h-3.27zM113.34 364.56h3.27v3.26h-3.27zM116.61 351.52h3.27v3.26h-3.27zM116.61 348.26h3.27v3.26h-3.27zM119.88 341.74h3.27v3.26h-3.27zM123.14 358.04h3.27v3.26h-3.27zM123.14 345.00h3.27v3.26h-3.27zM123.14 338.48h3.27v3.26h-3.27zM126.41 358.04h3.27v3.26h-3.27zM126.41 351.52h3.27v3.26h-3.27zM129.68 351.52h3.27v3.26h-3.27zM129.68 328.70h3.27v3.26h-3.27zM132.95 341.74h3.27v3.26h-3.27zM132.95 331.96h3.27v3.26h-3.27zM132.95 318.92h3.27v3.26h-3.27zM132.95 302.62h3.27v3.26h-3.27zM136.22 345.00h3.27v3.26h-3.27zM139.49 335.22h3.27v3.26h-3.27zM139.49 322.18h3.27v3.26h-3.27zM146.03 335.22h3.27v3.26h-3.27zM146.03 322.18h3.27v3.26h-3.27zM146.03 309.14h3.27v3.26h-3.27zM149.30 328.70h3.27v3.26h-3.27zM149.30 322.18h3.27v3.26h-3.27zM149.30 315.66h3.27v3.26h-3.27zM149.30 312.40h3.27v3.26h-3.27zM152.57 345.00h3.27v3.26h-3.27zM152.57 335.22h3.27v3.26h-3.27zM152.57 328.70h3.27v3.26h-3.27zM152.57 325.44h3.27v3.26h-3.27zM152.57 309.14h3.27v3.26h-3.27zM152.57 305.88h3.27v3.26h-3.27zM152.57 273.28h3.27v3.26h-3.27zM155.84 325.44h3.27v3.26h-3.27zM155.84 315.66h3.27v3.26h-3.27zM155.84 309.14h3.27v3.26h-3.27zM155.84 296.10h3.27v3.26h-3.27zM155.84 292.84h3.27v3.26h-3.27zM159.11 315.66h3.27v3.26h-3.27zM159.11 312.40h3.27v3.26h-3.27zM159.11 305.88h3.27v3.26h-3.27zM162.38 335.22h3.27v3.26h-3.27zM162.38 315.66h3.27v3.26h-3.27zM162.38 312.40h3.27v3.26h-3.27zM162.38 240.68h3.27v3.26h-3.27zM165.64 331.96h3.27v3.26h-3.27zM165.64 315.66h3.27v3.26h-3.27zM165.64 299.36h3.27v3.26h-3.27zM165.64 283.06h3.27v3.26h-3.27zM168.91 289.58h3.27v3.26h-3.27zM168.91 276.54h3.27v3.26h-3.27zM172.18 315.66h3.27v3.26h-3.27zM172.18 309.14h3.27v3.26h-3.27zM172.18 296.10h3.27v3.26h-3.27zM175.45 318.92h3.27v3.26h-3.27zM175.45 305.88h3.27v3.26h-3.27zM175.45 260.24h3.27v3.26h-3.27zM175.45 250.46h3.27v3.26h-3.27zM178.72 315.66h3.27v3.26h-3.27zM178.72 292.84h3.27v3.26h-3.27zM181.99 299.36h3.27v3.26h-3.27zM181.99 289.58h3.27v3.26h-3.27zM181.99 263.50h3.27v3.26h-3.27zM185.26 286.32h3.27v3.26h-3.27zM185.26 279.80h3.27v3.26h-3.27zM185.26 266.76h3.27v3.26h-3.27zM188.53 292.84h3.27v3.26h-3.27zM188.53 243.94h3.27v3.26h-3.27zM195.07 279.80h3.27v3.26h-3.27zM195.07 273.28h3.27v3.26h-3.27zM195.07 253.72h3.27v3.26h-3.27zM198.34 299.36h3.27v3.26h-3.27zM198.34 279.80h3.27v3.26h-3.27zM198.34 276.54h3.27v3.26h-3.27zM198.34 260.24h3.27v3.26h-3.27zM201.61 289.58h3.27v3.26h-3.27zM201.61 266.76h3.27v3.26h-3.27zM204.87 283.06h3.27v3.26h-3.27zM208.14 296.10h3.27v3.26h-3.27zM208.14 292.84h3.27v3.26h-3.27zM208.14 253.72h3.27v3.26h-3.27zM208.14 240.68h3.27v3.26h-3.27zM208.14 227.64h3.27v3.26h-3.27zM211.41 283.06h3.27v3.26h-3.27zM211.41 276.54h3.27v3.26h-3.27zM214.68 270.02h3.27v3.26h-3.27zM214.68 263.50h3.27v3.26h-3.27zM217.95 217.86h3.27v3.26h-3.27zM221.22 286.32h3.27v3.26h-3.27zM221.22 273.28h3.27v3.26h-3.27zM221.22 266.76h3.27v3.26h-3.27zM221.22 256.98h3.27v3.26h-3.27zM221.22 201.56h3.27v3.26h-3.27zM224.49 283.06h3.27v3.26h-3.27zM224.49 214.60h3.27v3.26h-3.27zM231.03 260.24h3.27v3.26h-3.27zM231.03 230.90h3.27v3.26h-3.27zM234.30 224.38h3.27v3.26h-3.27zM234.30 221.12h3.27v3.26h-3.27zM237.57 279.80h3.27v3.26h-3.27zM237.57 270.02h3.27v3.26h-3.27zM237.57 247.20h3.27v3.26h-3.27zM240.83 250.46h3.27v3.26h-3.27zM240.83 217.86h3.27v3.26h-3.27zM244.10 243.94h3.27v3.26h-3.27zM247.37 266.76h3.27v3.26h-3.27zM247.37 253.72h3.27v3.26h-3.27zM253.91 273.28h3.27v3.26h-3.27zM253.91 250.46h3.27v3.26h-3.27zM257.18 266.76h3.27v3.26h-3.27zM263.72 224.38h3.27v3.26h-3.27zM270.26 208.08h3.27v3.26h-3.27zM280.06 234.16h3.27v3.26h-3.27zM283.33 227.64h3.27v3.26h-3.27zM286.60 227.64h3.27v3.26h-3.27zM293.14 217.86h3.27v3.26h-3.27zM302.95 224.38h3.27v3.26h-3.27zM309.49 136.36h3.27v3.26h-3.27zM312.76 201.56h3.27v3.26h-3.27zM316.03 159.18h3.27v3.26h-3.27z"/>
<path fill="rgb(81,255,174)" d="M100.26 367.82h3.27v3.26h-3.27zM110.07 371.08h3.27v3.26h-3.27zM110.07 361.30h3.27v3.26h-3.27zM113.34 367.82h3.27v3.26h-3.27zM123.14 354.78h3.27v3.26h-3.27zM126.41 345.00h3.27v3.26h-3.27zM132.95 338.48h3.27v3.26h-3.27zM136.22 338.48h3.27v3.26h-3.27zM136.22 322.18h3.27v3.26h-3.27zM136.22 318.92h3.27v3.26h-3.27zM139.49 328.70h3.27v3.26h-3.27zM139.49 318.92h3.27v3.26h-3.27zM139.49 315.66h3.27v3.26h-3.27zM149.30 335.22h3.27v3.26h-3.27zM152.57 296.10h3.27v3.26h-3.27zM159.11 325.44h3.27v3.26h-3.27zM159.11 309.14h3.27v3.26h-3.27zM162.38 309.14h3.27v3.26h-3.27zM162.38 292.84h3.27v3.26h-3.27zM162.38 289.58h3.27v3.26h-3.27zM162.38 286.32h3.27v3.26h-3.27zM162.38 266.76h3.27v3.26h-3.27zM165.64 309.14h3.27v3.26h-3.27zM165.64 305.88h3.27v3.26h-3.27zM168.91 322.18h3.27v3.26h-3.27zM168.91 299.36h3.27v3.26h-3.27zM172.18 299.36h3.27v3.26h-3.27zM172.18 276.54h3.27v3.26h-3.27zM175.45 312.40h3.27v3.26h-3.27zM175.45 299.36h3.27v3.26h-3.27zM175.45 289.58h3.27v3.26h-3.27zM178.72 273.28h3.27v3.26h-3.27zM178.72 266.76h3.27v3.26h-3.27zM181.99 292.84h3.27v3.26h-3.27zM185.26 283.06h3.27v3.26h-3.27zM188.53 302.62h3.27v3.26h-3.27zM188.53 286.32h3.27v3.26h-3.27zM188.53 266.76h3.27v3.26h-3.27zM191.80 283.06h3.27v3.26h-3.27zM195.07 299.36h3.27v3.26h-3.27zM198.34 283.06h3.27v3.26h-3.27zM198.34 256.98h3.27v3.26h-3.27zM201.61 302.62h3.27v3.26h-3.27zM204.87 237.42h3.27v3.26h-3.27zM208.14 250.46h3.27v3.26h-3.27zM211.41 266.76h3.27v3.26h-3.27zM211.41 260.24h3.27v3.26h-3.27zM211.41 247.20h3.27v3.26h-3.27zM217.95 276.54h3.27v3.26h-3.27zM221.22 283.06h3.27v3.26h-3.27zM224.49 270.02h3.27v3.26h-3.27zM231.03 253.72h3.27v3.26h-3.27zM240.83 230.90h3.27v3.26h-3.27zM244.10 247.20h3.27v3.26h-3.27zM244.10 217.86h3.27v3.26h-3.27zM247.37 204.82h3.27v3.26h-3.27zM253.91 221.12h3.27v3.26h-3.27z"/>
<path fill="rgb(174,255,81)" d="M129.68 341.74h3.27v3.26h-3.27zM136.22 341.74h3.27v3.26h-3.27zM136.22 328.70h3.27v3.26h-3.27zM139.49 338.48h3.27v3.26h-3.27zM142.76 325.44h3.27v3.26h-3.27zM142.76 322.18h3.27v3.26h-3.27zM146.03 279.80h3.27v3.26h-3.27zM149.30 331.96h3.27v3.26h-3.27zM152.57 318.92h3.27v3.26h-3.27zM152.57 312.40h3.27v3.26h-3.27zM155.84 312.40h3.27v3.26h-3.27zM159.11 318.92h3.27v3.26h-3.27zM162.38 302.62h3.27v3.26h-3.27zM168.91 286.32h3.27v3.26h-3.27zM172.18 292.84h3.27v3.26h-3.27zM175.45 296.10h3.27v3.26h-3.27zM178.72 296.10h3.27v3.26h-3.27zM178.72 286.32h3.27v3.26h-3.27zM178.72 279.80h3.27v3.26h-3.27zM185.26 305.88h3.27v3.26h-3.27zM185.26 299.36h3.27v3.26h-3.27zM185.26 292.84h3.27v3.26h-3.27zM185.26 289.58h3.27v3.26h-3.27zM188.53 260.24h3.27v3.26h-3.27zM201.61 270.02h3.27v3.26h-3.27zM201.61 263.50h3.27v3.26h-3.27zM204.87 276.54h3.27v3.26h-3.27zM204.87 266.76h3.27v3.26h-3.27zM208.14 260.24h3.27v3.26h-3.27zM231.03 237.42h3.27v3.26h-3.27zM250.64 221.12h3.27v3.26h-3.27zM289.87 198.30h3.27v3.26h-3.27z"/>
<path fill="rgb(255,243,0)" d="M119.88 335.22h3.27v3.26h-3.27zM146.03 305.88h3.27v3.26h-3.27zM152.57 322.18h3.27v3.26h-3.27zM155.84 318.92h3.27v3.26h-3.27zM188.53 283.06h3.27v3.26h-3.27zM201.61 256.98h3.27v3.26h-3.27zM204.87 292.84h3.27v3.26h-3.27zM204.87 279.80h3.27v3.26h-3.27zM217.95 247.20h3.27v3.26h-3.27zM221.22 250.46h3.27v3.26h-3.27zM224.49 279.80h3.27v3.26h-3.27z"/>
<path fill="rgb(255,151,0)" d="M126.41 335.22h3.27v3.26h-3.27zM139.49 325.44h3.27v3.26h-3.27zM152.57 302.62h3.27v3.26h-3.27zM155.84 302.62h3.27v3.26h-3.27zM195.07 289.58h3.27v3.26h-3.27zM208.14 266.76h3.27v3.26h-3.27z"/>
<path fill="rgb(128,0,0)" d="M155.84 299.36h3.27v3.26h-3.27z"/>
</g>
<g clip-path="url(#clip)" fill="none">
<line x1="64.30" y1="426.50" x2="391.22" y2="100.50" stroke="#000" stroke-width="1.15" stroke-dasharray="7.6 4.4"/>
<line x1="81.7" y1="302.20" x2="390.4" y2="20.39" stroke="#ff00ff" stroke-width="1.05"/>
<line x1="81.7" y1="454.00" x2="390.4" y2="172.19" stroke="#ff00ff" stroke-width="1.05"/>
<line x1="81.7" y1="378.10" x2="390.4" y2="96.29" stroke="#ff0000" stroke-width="1.1"/>
</g>
<rect x="64.3" y="35.3" width="392.30" height="391.20" fill="none" stroke="#5a5a5a" stroke-width="1.25"/>
<path d="M195.07 426.5v-4M195.07 35.3v4M64.3 296.10h4M456.6 296.10h-4" stroke="#5a5a5a" stroke-width="1" fill="none"/>
<path d="M325.83 426.5v-4M325.83 35.3v4M64.3 165.70h4M456.6 165.70h-4" stroke="#5a5a5a" stroke-width="1" fill="none"/>
<text x="129.60" y="27.1" font-size="16.5" textLength="87.70" lengthAdjust="spacingAndGlyphs" font-weight="bold" fill="#000" stroke="#000" stroke-width="0.35">MERRA-2</text>
<text x="223.70" y="27.1" font-size="16.5" textLength="21.60" lengthAdjust="spacingAndGlyphs" font-weight="bold" fill="#000" stroke="#000" stroke-width="0.35">vs</text>
<text x="250.40" y="27.1" font-size="16.5" textLength="91.60" lengthAdjust="spacingAndGlyphs" font-weight="bold" fill="#000" stroke="#000" stroke-width="0.35">AERONET</text>
<text x="348.40" y="27.1" font-size="16.5" textLength="42.50" lengthAdjust="spacingAndGlyphs" font-weight="bold" fill="#000" stroke="#000" stroke-width="0.35">AOD</text>
<text x="64.30" y="446.1" font-size="14.8" text-anchor="middle" textLength="9" lengthAdjust="spacingAndGlyphs">0</text>
<text x="58" y="431.50" font-size="14.8" text-anchor="end" textLength="9" lengthAdjust="spacingAndGlyphs">0</text>
<text x="195.07" y="446.1" font-size="14.8" text-anchor="middle" textLength="24" lengthAdjust="spacingAndGlyphs">0.4</text>
<text x="58" y="301.10" font-size="14.8" text-anchor="end" textLength="24" lengthAdjust="spacingAndGlyphs">0.4</text>
<text x="325.83" y="446.1" font-size="14.8" text-anchor="middle" textLength="24" lengthAdjust="spacingAndGlyphs">0.8</text>
<text x="58" y="170.70" font-size="14.8" text-anchor="end" textLength="24" lengthAdjust="spacingAndGlyphs">0.8</text>
<text x="456.60" y="446.1" font-size="14.8" text-anchor="middle" textLength="24" lengthAdjust="spacingAndGlyphs">1.2</text>
<text x="58" y="40.30" font-size="14.8" text-anchor="end" textLength="24" lengthAdjust="spacingAndGlyphs">1.2</text>
<text x="161.80" y="468.1" font-size="18" textLength="76.80" lengthAdjust="spacingAndGlyphs" >MERRA-2</text>
<text x="245.40" y="468.1" font-size="18" textLength="113.20" lengthAdjust="spacingAndGlyphs" >AOD(550nm)</text>
<g transform="translate(26.6,0) rotate(-90)">
<text x="-330.90" y="0" font-size="18" textLength="83.30" lengthAdjust="spacingAndGlyphs">AERONET</text>
<text x="-241.60" y="0" font-size="18" textLength="108.50" lengthAdjust="spacingAndGlyphs">AOD(550nm)</text>
</g>
<text x="323.8" y="364.6" font-size="13.2" textLength="117.6" lengthAdjust="spacingAndGlyphs">Total points=4564</text>
<text x="323.8" y="380.5" font-size="13.2" textLength="98" lengthAdjust="spacingAndGlyphs">y=0.92*x+0.09</text>
<text x="323.8" y="399.7" font-size="13.2" textLength="53.5" lengthAdjust="spacingAndGlyphs">R<tspan dy="-5.5" font-size="10">2</tspan><tspan dy="5.5">=0.71</tspan></text>
<text x="323.8" y="415.6" font-size="13.2" textLength="73.9" lengthAdjust="spacingAndGlyphs">RMSE=0.13</text>
<path d="M495.1 419.6V39.1L501.90 34.3L508.7 39.1V419.6z" fill="url(#jet)" stroke="#333" stroke-width="0.7"/>
<text x="512.7" y="424.50" font-size="11.9" textLength="6.7" lengthAdjust="spacingAndGlyphs">0</text>
<line x1="505.0" y1="385.01" x2="508.7" y2="385.01" stroke="#333" stroke-width="1"/>
<text x="512.7" y="389.91" font-size="11.9" textLength="6.7" lengthAdjust="spacingAndGlyphs">1</text>
<line x1="505.0" y1="350.42" x2="508.7" y2="350.42" stroke="#333" stroke-width="1"/>
<text x="512.7" y="355.32" font-size="11.9" textLength="6.7" lengthAdjust="spacingAndGlyphs">2</text>
<line x1="505.0" y1="315.83" x2="508.7" y2="315.83" stroke="#333" stroke-width="1"/>
<text x="512.7" y="320.73" font-size="11.9" textLength="6.7" lengthAdjust="spacingAndGlyphs">3</text>
<line x1="505.0" y1="281.24" x2="508.7" y2="281.24" stroke="#333" stroke-width="1"/>
<text x="512.7" y="286.14" font-size="11.9" textLength="6.7" lengthAdjust="spacingAndGlyphs">4</text>
<line x1="505.0" y1="246.65" x2="508.7" y2="246.65" stroke="#333" stroke-width="1"/>
<text x="512.7" y="251.55" font-size="11.9" textLength="6.7" lengthAdjust="spacingAndGlyphs">5</text>
<line x1="505.0" y1="212.05" x2="508.7" y2="212.05" stroke="#333" stroke-width="1"/>
<text x="512.7" y="216.95" font-size="11.9" textLength="6.7" lengthAdjust="spacingAndGlyphs">6</text>
<line x1="505.0" y1="177.46" x2="508.7" y2="177.46" stroke="#333" stroke-width="1"/>
<text x="512.7" y="182.36" font-size="11.9" textLength="6.7" lengthAdjust="spacingAndGlyphs">7</text>
<line x1="505.0" y1="142.87" x2="508.7" y2="142.87" stroke="#333" stroke-width="1"/>
<text x="512.7" y="147.77" font-size="11.9" textLength="6.7" lengthAdjust="spacingAndGlyphs">8</text>
<line x1="505.0" y1="108.28" x2="508.7" y2="108.28" stroke="#333" stroke-width="1"/>
<text x="512.7" y="113.18" font-size="11.9" textLength="6.7" lengthAdjust="spacingAndGlyphs">9</text>
<line x1="505.0" y1="73.69" x2="508.7" y2="73.69" stroke="#333" stroke-width="1"/>
<text x="512.7" y="78.59" font-size="11.9" textLength="13.4" lengthAdjust="spacingAndGlyphs">10</text>
<text x="512.7" y="44.00" font-size="11.9" textLength="13.4" lengthAdjust="spacingAndGlyphs">11</text>
<text transform="translate(543,229.2) rotate(-90)" font-size="12" text-anchor="middle" textLength="67.5" lengthAdjust="spacingAndGlyphs"># of Values</text>
<line x1="94.9" y1="495.3" x2="117" y2="495.3" stroke="#000" stroke-width="1.3" stroke-dasharray="4 4.6"/>
<text x="119.3" y="500.3" font-size="14.5" textLength="22.7" lengthAdjust="spacingAndGlyphs" fill="#000">x=y</text>
<line x1="147.3" y1="495.3" x2="168.5" y2="495.3" stroke="#ff0000" stroke-width="1.5"/>
<text x="171.2" y="500.3" font-size="14.5" textLength="61.2" lengthAdjust="spacingAndGlyphs" fill="#000">Linear Fit</text>
<line x1="236.8" y1="495.3" x2="259" y2="495.3" stroke="#ff00ff" stroke-width="1.3" stroke-dasharray="4.4 4.1"/>
<text x="260.3" y="500.3" font-size="14.5" textLength="150.2" lengthAdjust="spacingAndGlyphs" fill="#000">95% Prediction Interval</text>
</svg></body></html>
